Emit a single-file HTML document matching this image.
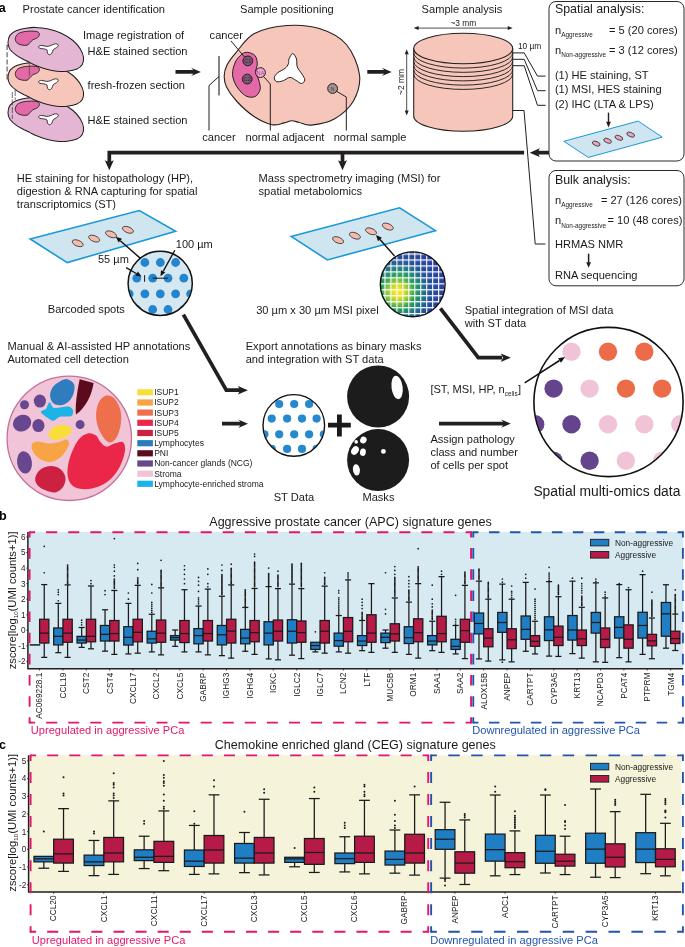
<!DOCTYPE html>
<html><head><meta charset="utf-8"><title>Figure</title>
<style>
html,body{margin:0;padding:0;background:#fff;}
body{width:685px;height:947px;overflow:hidden;font-family:"Liberation Sans",sans-serif;}
svg{display:block;font-family:"Liberation Sans",sans-serif;will-change:transform;}
</style></head><body>
<svg width="685" height="947" viewBox="0 0 685 947">
<rect width="685" height="947" fill="#ffffff"/>
<text x="-1.2" y="12.4" font-size="12.5" text-anchor="start" font-weight="bold" fill="#000" >a</text><text x="22.6" y="12.6" font-size="11.1" text-anchor="start" font-weight="normal" fill="#1a1a1a" >Prostate cancer identification</text><text x="240" y="12.6" font-size="11.1" text-anchor="start" font-weight="normal" fill="#1a1a1a" >Sample positioning</text><text x="462" y="12.6" font-size="11.1" text-anchor="middle" font-weight="normal" fill="#1a1a1a" >Sample analysis</text><path d="M7.1,45 L7.1,79" stroke="#555" stroke-width="1.1" stroke-dasharray="5,2.2" fill="none"/><path d="M6.5,45.3 L8.5,45.3 M6.5,79 L8.5,79" stroke="#555" stroke-width="0.7"/><g transform="translate(0,70)"><path d="M8.0,42.7 C8.0,40.4 8.6,37.4 9.9,35.4 C11.3,33.4 13.6,31.9 16.1,30.8 C18.5,29.6 21.7,29.0 24.8,28.4 C28.0,27.9 31.1,27.3 35.0,27.4 C38.9,27.5 43.8,27.9 48.2,28.9 C52.6,29.8 57.2,31.3 61.3,33.2 C65.5,35.2 69.8,37.9 73.0,40.5 C76.2,43.2 78.5,46.1 80.3,48.9 C82.0,51.7 83.2,54.7 83.5,57.3 C83.8,60.0 83.4,62.7 82.3,64.6 C81.2,66.6 79.5,67.9 76.9,69.0 C74.4,70.1 70.5,70.8 67.2,71.2 C63.8,71.6 60.3,71.5 56.9,71.2 C53.5,70.9 50.0,70.2 46.7,69.3 C43.4,68.5 40.0,67.2 37.2,66.1 C34.4,65.0 32.1,63.7 29.9,62.6 C27.7,61.5 26.4,60.9 24.1,59.7 C21.8,58.4 18.4,56.9 16.1,55.1 C13.7,53.4 11.3,51.4 9.9,49.3 C8.6,47.2 8.0,45.0 8.0,42.7 Z" fill="#e4b6d4" stroke="#231f20" stroke-width="1.05"/><path d="M15.3,38.4 C15.6,36.8 16.4,34.9 18.2,33.7 C20.1,32.5 23.4,31.7 26.3,31.4 C29.2,31.0 33.6,31.0 35.8,31.4 C38.0,31.7 39.1,32.6 39.4,33.7 C39.7,34.7 38.8,36.6 37.7,37.6 C36.6,38.6 34.1,39.0 32.8,39.8 C31.6,40.7 30.9,41.8 29.9,42.7 C29.0,43.6 28.5,44.9 27.0,45.2 C25.5,45.6 22.9,45.3 21.2,44.9 C19.5,44.5 17.8,43.8 16.8,42.7 C15.8,41.6 15.1,39.9 15.3,38.4 Z" fill="#e36aa6" stroke="#231f20" stroke-width="0.9"/><path d="M38.7,46.4 C39.0,45.9 40.3,45.4 41.6,45.4 C42.9,45.4 45.3,46.3 46.7,46.4 C48.2,46.4 49.0,46.1 50.4,45.7 C51.7,45.2 53.5,44.1 54.7,43.9 C56.0,43.7 57.7,44.1 58.1,44.6 C58.5,45.2 58.0,46.3 57.2,47.1 C56.4,48.0 54.2,48.7 53.3,49.7 C52.4,50.8 52.4,52.4 51.8,53.2 C51.2,54.1 50.4,54.7 49.6,54.7 C48.9,54.7 47.9,54.0 47.4,53.2 C47.0,52.5 47.6,50.8 47.0,50.0 C46.4,49.3 45.0,49.2 43.8,48.9 C42.6,48.6 40.6,48.7 39.7,48.3 C38.9,47.9 38.4,46.9 38.7,46.4 Z" fill="#ffffff" stroke="#231f20" stroke-width="0.9"/></g><path d="M12.3,92 L12.3,119 M15.2,90 L15.2,100" stroke="#333" stroke-width="0.7" stroke-dasharray="6,1.5" fill="none"/><g transform="translate(0,35)"><path d="M8.0,42.7 C8.0,40.4 8.6,37.4 9.9,35.4 C11.3,33.4 13.6,31.9 16.1,30.8 C18.5,29.6 21.7,29.0 24.8,28.4 C28.0,27.9 31.1,27.3 35.0,27.4 C38.9,27.5 43.8,27.9 48.2,28.9 C52.6,29.8 57.2,31.3 61.3,33.2 C65.5,35.2 69.8,37.9 73.0,40.5 C76.2,43.2 78.5,46.1 80.3,48.9 C82.0,51.7 83.2,54.7 83.5,57.3 C83.8,60.0 83.4,62.7 82.3,64.6 C81.2,66.6 79.5,67.9 76.9,69.0 C74.4,70.1 70.5,70.8 67.2,71.2 C63.8,71.6 60.3,71.5 56.9,71.2 C53.5,70.9 50.0,70.2 46.7,69.3 C43.4,68.5 40.0,67.2 37.2,66.1 C34.4,65.0 32.1,63.7 29.9,62.6 C27.7,61.5 26.4,60.9 24.1,59.7 C21.8,58.4 18.4,56.9 16.1,55.1 C13.7,53.4 11.3,51.4 9.9,49.3 C8.6,47.2 8.0,45.0 8.0,42.7 Z" fill="#f6c6ba" stroke="#231f20" stroke-width="1.05"/><path d="M15.3,38.4 C15.6,36.8 16.4,34.9 18.2,33.7 C20.1,32.5 23.4,31.7 26.3,31.4 C29.2,31.0 33.6,31.0 35.8,31.4 C38.0,31.7 39.1,32.6 39.4,33.7 C39.7,34.7 38.8,36.6 37.7,37.6 C36.6,38.6 34.1,39.0 32.8,39.8 C31.6,40.7 30.9,41.8 29.9,42.7 C29.0,43.6 28.5,44.9 27.0,45.2 C25.5,45.6 22.9,45.3 21.2,44.9 C19.5,44.5 17.8,43.8 16.8,42.7 C15.8,41.6 15.1,39.9 15.3,38.4 Z" fill="#e36aa6" stroke="#231f20" stroke-width="0.9"/><path d="M38.7,46.4 C39.0,45.9 40.3,45.4 41.6,45.4 C42.9,45.4 45.3,46.3 46.7,46.4 C48.2,46.4 49.0,46.1 50.4,45.7 C51.7,45.2 53.5,44.1 54.7,43.9 C56.0,43.7 57.7,44.1 58.1,44.6 C58.5,45.2 58.0,46.3 57.2,47.1 C56.4,48.0 54.2,48.7 53.3,49.7 C52.4,50.8 52.4,52.4 51.8,53.2 C51.2,54.1 50.4,54.7 49.6,54.7 C48.9,54.7 47.9,54.0 47.4,53.2 C47.0,52.5 47.6,50.8 47.0,50.0 C46.4,49.3 45.0,49.2 43.8,48.9 C42.6,48.6 40.6,48.7 39.7,48.3 C38.9,47.9 38.4,46.9 38.7,46.4 Z" fill="#ffffff" stroke="#231f20" stroke-width="0.9"/></g><path d="M29.3,62 L29.3,76" stroke="#333" stroke-width="0.6" fill="none"/><g transform="translate(0,0)"><path d="M8.0,42.7 C8.0,40.4 8.6,37.4 9.9,35.4 C11.3,33.4 13.6,31.9 16.1,30.8 C18.5,29.6 21.7,29.0 24.8,28.4 C28.0,27.9 31.1,27.3 35.0,27.4 C38.9,27.5 43.8,27.9 48.2,28.9 C52.6,29.8 57.2,31.3 61.3,33.2 C65.5,35.2 69.8,37.9 73.0,40.5 C76.2,43.2 78.5,46.1 80.3,48.9 C82.0,51.7 83.2,54.7 83.5,57.3 C83.8,60.0 83.4,62.7 82.3,64.6 C81.2,66.6 79.5,67.9 76.9,69.0 C74.4,70.1 70.5,70.8 67.2,71.2 C63.8,71.6 60.3,71.5 56.9,71.2 C53.5,70.9 50.0,70.2 46.7,69.3 C43.4,68.5 40.0,67.2 37.2,66.1 C34.4,65.0 32.1,63.7 29.9,62.6 C27.7,61.5 26.4,60.9 24.1,59.7 C21.8,58.4 18.4,56.9 16.1,55.1 C13.7,53.4 11.3,51.4 9.9,49.3 C8.6,47.2 8.0,45.0 8.0,42.7 Z" fill="#e4b6d4" stroke="#231f20" stroke-width="1.05"/><path d="M15.3,38.4 C15.6,36.8 16.4,34.9 18.2,33.7 C20.1,32.5 23.4,31.7 26.3,31.4 C29.2,31.0 33.6,31.0 35.8,31.4 C38.0,31.7 39.1,32.6 39.4,33.7 C39.7,34.7 38.8,36.6 37.7,37.6 C36.6,38.6 34.1,39.0 32.8,39.8 C31.6,40.7 30.9,41.8 29.9,42.7 C29.0,43.6 28.5,44.9 27.0,45.2 C25.5,45.6 22.9,45.3 21.2,44.9 C19.5,44.5 17.8,43.8 16.8,42.7 C15.8,41.6 15.1,39.9 15.3,38.4 Z" fill="#e36aa6" stroke="#231f20" stroke-width="0.9"/><path d="M38.7,46.4 C39.0,45.9 40.3,45.4 41.6,45.4 C42.9,45.4 45.3,46.3 46.7,46.4 C48.2,46.4 49.0,46.1 50.4,45.7 C51.7,45.2 53.5,44.1 54.7,43.9 C56.0,43.7 57.7,44.1 58.1,44.6 C58.5,45.2 58.0,46.3 57.2,47.1 C56.4,48.0 54.2,48.7 53.3,49.7 C52.4,50.8 52.4,52.4 51.8,53.2 C51.2,54.1 50.4,54.7 49.6,54.7 C48.9,54.7 47.9,54.0 47.4,53.2 C47.0,52.5 47.6,50.8 47.0,50.0 C46.4,49.3 45.0,49.2 43.8,48.9 C42.6,48.6 40.6,48.7 39.7,48.3 C38.9,47.9 38.4,46.9 38.7,46.4 Z" fill="#ffffff" stroke="#231f20" stroke-width="0.9"/></g><text x="83" y="39" font-size="11.1" text-anchor="start" font-weight="normal" fill="#1a1a1a" >Image registration of</text><text x="87.6" y="55" font-size="11.1" text-anchor="start" font-weight="normal" fill="#1a1a1a" >H&amp;E stained section</text><text x="87.6" y="89.3" font-size="11.1" text-anchor="start" font-weight="normal" fill="#1a1a1a" >fresh-frozen section</text><text x="87.6" y="124" font-size="11.1" text-anchor="start" font-weight="normal" fill="#1a1a1a" >H&amp;E stained section</text><path d="M175.5,70.0 L193.29999999999998,70.0 L191.1,67.7 L200.9,71.9 L191.1,76.10000000000001 L193.29999999999998,73.80000000000001 L175.5,73.80000000000001 Z" fill="#231f20"/><path d="M235.8,52.8 C240.4,47.6 245.8,38.1 254.4,33.6 C263.0,29.0 276.3,26.3 287.3,25.5 C298.2,24.7 310.2,25.6 320.1,28.8 C330.0,31.9 339.8,36.9 346.4,44.5 C352.9,52.2 358.3,65.3 359.5,74.7 C360.7,84.2 357.6,93.6 353.4,101.0 C349.2,108.4 341.3,115.0 334.3,119.0 C327.3,123.0 317.2,124.5 311.3,125.1 C305.5,125.7 302.6,123.2 299.3,122.5 C296.0,121.7 294.2,120.6 291.6,120.7 C289.1,120.8 287.3,122.3 284.0,122.9 C280.7,123.6 276.9,125.7 271.9,124.7 C267.0,123.6 260.3,120.6 254.4,116.8 C248.6,112.9 241.6,106.5 236.9,101.5 C232.2,96.5 228.5,91.1 226.4,86.8 C224.3,82.5 224.1,79.5 224.2,75.8 C224.3,72.2 225.1,68.7 227.0,64.9 C229.0,61.1 231.2,58.1 235.8,52.8 Z" fill="#f6c6ba" stroke="#231f20" stroke-width="1.1"/><path d="M247.8,52.4 C250.0,52.7 253.5,53.8 255.1,55.7 C256.6,57.6 257.2,61.1 257.3,63.8 C257.4,66.5 255.5,69.2 255.7,71.9 C256.0,74.6 258.1,77.3 258.8,80.2 C259.5,83.2 260.8,86.9 260.1,89.6 C259.4,92.4 257.3,95.6 254.9,96.6 C252.4,97.7 248.6,97.4 245.7,95.8 C242.7,94.1 239.1,90.3 236.9,86.8 C234.7,83.3 232.8,78.9 232.5,74.7 C232.3,70.6 233.8,65.5 235.4,62.0 C236.9,58.6 239.9,55.8 241.9,54.2 C244.0,52.6 245.7,52.2 247.8,52.4 Z" fill="#e36aa6" stroke="#231f20" stroke-width="1.0"/><path d="M289.0,59.0 C289.7,57.3 291.5,53.5 292.7,53.5 C294.0,53.5 295.7,56.7 296.5,59.0 C297.2,61.2 296.4,64.5 297.3,67.1 C298.3,69.6 300.9,72.1 302.1,74.3 C303.4,76.5 304.9,78.5 304.8,80.0 C304.7,81.5 302.9,83.4 301.5,83.5 C300.0,83.6 298.0,81.5 296.0,80.4 C294.1,79.4 292.0,77.3 289.9,77.4 C287.8,77.4 285.5,79.9 283.3,80.7 C281.1,81.4 278.2,82.2 276.7,81.7 C275.3,81.3 274.2,79.3 274.3,77.8 C274.4,76.3 275.6,74.6 277.4,73.0 C279.2,71.4 283.2,69.9 285.1,68.4 C286.9,66.9 287.7,65.4 288.4,63.8 C289.0,62.2 288.3,60.7 289.0,59.0 Z" fill="#fff" stroke="#231f20" stroke-width="1.0"/><circle cx="247.8" cy="60.9" r="4.9" fill="#7f5673" stroke="#231f20" stroke-width="1"/><text x="247.8" y="62.9" font-size="5.6" text-anchor="middle" font-weight="normal" fill="#3a2a35" >C1</text><circle cx="247.2" cy="79.1" r="4.9" fill="#7f5673" stroke="#231f20" stroke-width="1"/><text x="247.2" y="81.1" font-size="5.6" text-anchor="middle" font-weight="normal" fill="#3a2a35" >C2</text><circle cx="260.5" cy="72.6" r="4.9" fill="#eda6cc" stroke="#231f20" stroke-width="1"/><text x="260.5" y="74.6" font-size="5.6" text-anchor="middle" font-weight="normal" fill="#b04590" >NA</text><circle cx="332.6" cy="88.5" r="4.9" fill="#a39292" stroke="#231f20" stroke-width="1"/><text x="332.6" y="90.5" font-size="5.6" text-anchor="middle" font-weight="normal" fill="#4a4040" >N</text><path d="M231,41 L244.5,57" stroke="#231f20" stroke-width="1" fill="none"/><path d="M219,56 L219,95.5" stroke="#66666a" stroke-width="1.6" fill="none"/><path d="M219,76.5 L209,85.5 L209,130.5" stroke="#231f20" stroke-width="1" fill="none"/><path d="M263.5,76.5 L270.3,84 L270.3,130.5" stroke="#231f20" stroke-width="1" fill="none"/><path d="M336,91 L346.3,97 L346.3,130.5" stroke="#231f20" stroke-width="1" fill="none"/><text x="209.6" y="38.5" font-size="11.1" text-anchor="start" font-weight="normal" fill="#1a1a1a" >cancer</text><text x="202.3" y="140.5" font-size="11.1" text-anchor="start" font-weight="normal" fill="#1a1a1a" >cancer</text><text x="245.5" y="140.5" font-size="11.1" text-anchor="start" font-weight="normal" fill="#1a1a1a" >normal adjacent</text><text x="333.7" y="140.5" font-size="11.1" text-anchor="start" font-weight="normal" fill="#1a1a1a" >normal sample</text><path d="M367.3,70.0 L384.09999999999997,70.0 L381.9,67.7 L391.7,71.9 L381.9,76.10000000000001 L384.09999999999997,73.80000000000001 L367.3,73.80000000000001 Z" fill="#231f20"/><path d="M413.7,48.5 L413.7,116 A49.5,15.3 0 0 0 512.7,116 L512.7,48.5 Z" fill="#f6c6ba" stroke="#231f20" stroke-width="1.05"/><path d="M413.7,74.12 A49.5,15.3 0 0 0 512.7,74.12" fill="none" stroke="#231f20" stroke-width="0.95"/><path d="M413.7,69.85 A49.5,15.3 0 0 0 512.7,69.85" fill="none" stroke="#231f20" stroke-width="0.95"/><path d="M413.7,65.58 A49.5,15.3 0 0 0 512.7,65.58" fill="none" stroke="#231f20" stroke-width="0.95"/><path d="M413.7,61.31 A49.5,15.3 0 0 0 512.7,61.31" fill="none" stroke="#231f20" stroke-width="0.95"/><path d="M413.7,57.04 A49.5,15.3 0 0 0 512.7,57.04" fill="none" stroke="#231f20" stroke-width="0.95"/><path d="M413.7,52.769999999999996 A49.5,15.3 0 0 0 512.7,52.769999999999996" fill="none" stroke="#231f20" stroke-width="0.95"/><ellipse cx="463.2" cy="48.5" rx="49.5" ry="15.3" fill="#f6c6ba" stroke="#231f20" stroke-width="1.05"/><path d="M416.6,28.1 L509.70000000000005,28.1" stroke="#222" stroke-width="0.8"/><path d="M413.6,28.1 l5,-2 l0,4 Z M512.7,28.1 l-5,-2 l0,4 Z" fill="#222"/><text x="463.4" y="25.6" font-size="8.4" text-anchor="middle" font-weight="normal" fill="#1a1a1a" >~3 mm</text><path d="M406.7,52.3 L406.7,112.5" stroke="#222" stroke-width="0.8"/><path d="M406.7,49.3 l-2,5 l4,0 Z M406.7,115.5 l-2,-5 l4,0 Z" fill="#222"/><text transform="translate(403.6,82) rotate(-90)" font-size="8.4" text-anchor="middle" fill="#1a1a1a">~2 mm</text><text x="517.9" y="48.6" font-size="8.4" text-anchor="start" font-weight="normal" fill="#1a1a1a" >10 µm</text><path d="M512.7,52.9 L524.2,52.9 L537.5,76.1 L545.6,76.1" stroke="#231f20" stroke-width="1" fill="none"/><path d="M512.7,59.3 L524.2,59.3 L537.5,90.7 L545.6,90.7" stroke="#231f20" stroke-width="1" fill="none"/><path d="M512.7,65.7 L524.2,65.7 L537.5,105.3 L545.6,105.3" stroke="#231f20" stroke-width="1" fill="none"/><path d="M109.3,162 L109.3,152.65 L524.1,152.65" stroke="#231f20" stroke-width="3.7" fill="none" stroke-linejoin="miter"/><path d="M109.3,170.3 l-4.45,-10 l4.45,1.9 l4.45,-1.9 Z" fill="#231f20"/><path d="M342.5,152.65 L342.5,162" stroke="#231f20" stroke-width="3.7"/><path d="M342.5,170.3 l-4.45,-10 l4.45,1.9 l4.45,-1.9 Z" fill="#231f20"/><path d="M512.7,110.5 L524,110.5 L535.2,244 L545.4,244" stroke="#231f20" stroke-width="1" fill="none"/><path d="M549,152.65 L538,152.65" stroke="#231f20" stroke-width="3.7"/><path d="M529.7,152.65 l10,-4.45 l-1.9,4.45 l1.9,4.45 Z" fill="#231f20"/><rect x="549" y="1.5" width="135" height="159.5" rx="7" ry="7" fill="#fff" stroke="#2a2a2a" stroke-width="1"/><rect x="549" y="170.5" width="135" height="115.3" rx="7" ry="7" fill="#fff" stroke="#2a2a2a" stroke-width="1"/><text x="554.9" y="13.3" font-size="12.4" text-anchor="start" font-weight="normal" fill="#1a1a1a" >Spatial analysis:</text><text x="554.9" y="34" font-size="11.1" text-anchor="start" font-weight="normal" fill="#1a1a1a" >n</text><text x="561.2" y="37.2" font-size="6.4" text-anchor="start" font-weight="normal" fill="#1a1a1a" >Aggressive</text><text x="609" y="34" font-size="11.1" text-anchor="start" font-weight="normal" fill="#1a1a1a" >= 5 (20 cores)</text><text x="554.9" y="53.8" font-size="11.1" text-anchor="start" font-weight="normal" fill="#1a1a1a" >n</text><text x="561.2" y="57.0" font-size="6.4" text-anchor="start" font-weight="normal" fill="#1a1a1a" >Non-aggressive</text><text x="609" y="53.8" font-size="11.1" text-anchor="start" font-weight="normal" fill="#1a1a1a" >= 3 (12 cores)</text><text x="554.9" y="78.6" font-size="11.1" text-anchor="start" font-weight="normal" fill="#1a1a1a" >(1) HE staining, ST</text><text x="554.9" y="93.1" font-size="11.1" text-anchor="start" font-weight="normal" fill="#1a1a1a" >(1) MSI, HES staining</text><text x="554.9" y="107.5" font-size="11.1" text-anchor="start" font-weight="normal" fill="#1a1a1a" >(2) IHC (LTA &amp; LPS)</text><path d="M608.5,112.6 L608.5,123" stroke="#231f20" stroke-width="1.4"/><path d="M608.5,127.4 l-2.4,-5.6 l4.8,0 Z" fill="#231f20"/><polygon points="563.8,141.3 638.2,121.1 662.2,137.2 588.3,157.4" fill="#cfe6f1" stroke="#1a98d8" stroke-width="1.0" stroke-linejoin="miter"/><ellipse cx="596.2" cy="143.6" rx="4.1" ry="2.1" transform="rotate(22 596.2 143.6)" fill="#eba3c2" stroke="#2a2a2a" stroke-width="0.75"/><ellipse cx="607.6" cy="140.8" rx="4.1" ry="2.1" transform="rotate(22 607.6 140.8)" fill="#eba3c2" stroke="#2a2a2a" stroke-width="0.75"/><ellipse cx="618.9" cy="137.8" rx="4.1" ry="2.1" transform="rotate(22 618.9 137.8)" fill="#eba3c2" stroke="#2a2a2a" stroke-width="0.75"/><ellipse cx="630.7" cy="134.6" rx="4.1" ry="2.1" transform="rotate(22 630.7 134.6)" fill="#eba3c2" stroke="#2a2a2a" stroke-width="0.75"/><text x="554.9" y="183.7" font-size="12.4" text-anchor="start" font-weight="normal" fill="#1a1a1a" >Bulk analysis:</text><text x="554.9" y="203.8" font-size="11.1" text-anchor="start" font-weight="normal" fill="#1a1a1a" >n</text><text x="561.2" y="207.0" font-size="6.4" text-anchor="start" font-weight="normal" fill="#1a1a1a" >Aggressive</text><text x="600.9" y="203.8" font-size="11.1" text-anchor="start" font-weight="normal" fill="#1a1a1a" >= 27 (126 cores)</text><text x="554.9" y="224.3" font-size="11.1" text-anchor="start" font-weight="normal" fill="#1a1a1a" >n</text><text x="561.2" y="227.5" font-size="6.4" text-anchor="start" font-weight="normal" fill="#1a1a1a" >Non-aggressive</text><text x="607.5" y="224.3" font-size="11.1" text-anchor="start" font-weight="normal" fill="#1a1a1a" >= 10 (48 cores)</text><text x="554.9" y="248.3" font-size="11.1" text-anchor="start" font-weight="normal" fill="#1a1a1a" >HRMAS NMR</text><path d="M588.6,253.7 L588.6,263.5" stroke="#231f20" stroke-width="1.5"/><path d="M588.6,267.8 l-2.4,-5.6 l4.8,0 Z" fill="#231f20"/><text x="554.9" y="278.6" font-size="11.1" text-anchor="start" font-weight="normal" fill="#1a1a1a" >RNA sequencing</text><text x="16.8" y="181.8" font-size="11.1" text-anchor="start" font-weight="normal" fill="#1a1a1a" >HE staining for histopathology (HP),</text><text x="16.8" y="195.0" font-size="11.1" text-anchor="start" font-weight="normal" fill="#1a1a1a" >digestion &amp; RNA capturing for spatial</text><text x="16.8" y="208.1" font-size="11.1" text-anchor="start" font-weight="normal" fill="#1a1a1a" >transcriptomics (ST)</text><text x="258.5" y="181.8" font-size="11.1" text-anchor="start" font-weight="normal" fill="#1a1a1a" >Mass spectrometry imaging (MSI) for</text><text x="258.5" y="195.0" font-size="11.1" text-anchor="start" font-weight="normal" fill="#1a1a1a" >spatial metabolomics</text><polygon points="30.2,239 139.4,210.5 175.6,231.3 67.2,262.6" fill="#cfe6f1" stroke="#1a98d8" stroke-width="1.6" stroke-linejoin="miter"/><ellipse cx="77.7" cy="243.2" rx="5.8" ry="2.9" transform="rotate(22 77.7 243.2)" fill="#f5bcae" stroke="#2a2a2a" stroke-width="0.75"/><ellipse cx="94.2" cy="238.6" rx="5.8" ry="2.9" transform="rotate(22 94.2 238.6)" fill="#f5bcae" stroke="#2a2a2a" stroke-width="0.75"/><ellipse cx="111" cy="234.3" rx="5.8" ry="2.9" transform="rotate(22 111 234.3)" fill="#f5bcae" stroke="#2a2a2a" stroke-width="0.75"/><ellipse cx="127.9" cy="229.8" rx="5.8" ry="2.9" transform="rotate(22 127.9 229.8)" fill="#f5bcae" stroke="#2a2a2a" stroke-width="0.75"/><polygon points="291.1,236.4 399.6,207.8 435.5,230.7 327.4,259.9" fill="#cfe6f1" stroke="#1a98d8" stroke-width="1.6" stroke-linejoin="miter"/><ellipse cx="338.1" cy="240.1" rx="5.8" ry="2.9" transform="rotate(22 338.1 240.1)" fill="#f5bcae" stroke="#2a2a2a" stroke-width="0.75"/><ellipse cx="354.9" cy="235.7" rx="5.8" ry="2.9" transform="rotate(22 354.9 235.7)" fill="#f5bcae" stroke="#2a2a2a" stroke-width="0.75"/><ellipse cx="371" cy="231.3" rx="5.8" ry="2.9" transform="rotate(22 371 231.3)" fill="#f5bcae" stroke="#2a2a2a" stroke-width="0.75"/><ellipse cx="387.8" cy="226.6" rx="5.8" ry="2.9" transform="rotate(22 387.8 226.6)" fill="#f5bcae" stroke="#2a2a2a" stroke-width="0.75"/><path d="M183.4,314.6 L226.3,390.2 L240,390.2" stroke="#231f20" stroke-width="3.7" fill="none" stroke-linejoin="miter"/><path d="M247.9,390.2 l-10,-4.2 l2.2,4.2 l-2.2,4.2 Z" fill="#231f20"/><path d="M440.4,308.4 L478.3,357.7 L502,357.7" stroke="#231f20" stroke-width="3.7" fill="none" stroke-linejoin="miter"/><path d="M510.8,357.7 l-10,-4.2 l2.2,4.2 l-2.2,4.2 Z" fill="#231f20"/><defs><clipPath id="cpS"><circle cx="160.2" cy="283.4" r="31.6"/></clipPath><clipPath id="cpT"><circle cx="293.8" cy="425.4" r="30.4"/></clipPath><clipPath id="cpM"><circle cx="412.7" cy="284.3" r="32"/></clipPath><clipPath id="cpB"><circle cx="608.5" cy="402" r="74.3"/></clipPath><radialGradient id="msiG" gradientUnits="userSpaceOnUse" cx="398" cy="292" r="44" fx="398" fy="292"><stop offset="0" stop-color="#fbe61e"/><stop offset="0.1" stop-color="#f2e21f"/><stop offset="0.25" stop-color="#8cc83c"/><stop offset="0.38" stop-color="#2aa257"/><stop offset="0.55" stop-color="#1f7c86"/><stop offset="0.72" stop-color="#22509a"/><stop offset="1" stop-color="#2a3f9f"/></radialGradient><pattern id="grid" patternUnits="userSpaceOnUse" x="390.4" y="259.4" width="5.96" height="5.96"><path d="M0,0.5 L5.96,0.5 M0.5,0 L0.5,5.96" stroke="#fff" stroke-width="1.25"/></pattern></defs><circle cx="160.2" cy="283.4" r="32.1" fill="#d5e8f2"/><g clip-path="url(#cpS)"><circle cx="144.9" cy="262.5" r="4.4" fill="#2585cc"/><circle cx="160.3" cy="262.5" r="4.4" fill="#2585cc"/><circle cx="175.6" cy="262.5" r="4.4" fill="#2585cc"/><circle cx="136.8" cy="278.2" r="4.4" fill="#2585cc"/><circle cx="152.7" cy="278.2" r="4.4" fill="#2585cc"/><circle cx="168" cy="278.2" r="4.4" fill="#2585cc"/><circle cx="183.8" cy="278.2" r="4.4" fill="#2585cc"/><circle cx="129.2" cy="293.8" r="4.4" fill="#2585cc"/><circle cx="144.9" cy="293.8" r="4.4" fill="#2585cc"/><circle cx="160.3" cy="293.8" r="4.4" fill="#2585cc"/><circle cx="175.6" cy="293.8" r="4.4" fill="#2585cc"/><circle cx="190.6" cy="293.8" r="4.4" fill="#2585cc"/><circle cx="136.8" cy="309.5" r="4.4" fill="#2585cc"/><circle cx="152.7" cy="309.5" r="4.4" fill="#2585cc"/><circle cx="168" cy="309.5" r="4.4" fill="#2585cc"/><circle cx="183.8" cy="309.5" r="4.4" fill="#2585cc"/></g><circle cx="160.2" cy="283.4" r="32.1" fill="none" stroke="#111" stroke-width="1.5"/><path d="M152.7,278.2 L168,278.2" stroke="#111" stroke-width="1"/><path d="M144.6,275.2 L144.6,281.8" stroke="#111" stroke-width="1"/><path d="M140.4,258.4 L120.3,240.7" stroke="#111" stroke-width="1.4"/><path d="M115.8,236.7 L122.0,238.7 L118.6,242.6 Z" fill="#111"/><path d="M174.8,250.2 L163.2,271.4" stroke="#111" stroke-width="1.3"/><path d="M160.5,276.2 L161.0,270.2 L165.3,272.5 Z" fill="#111"/><path d="M126.1,267.6 L136.7,273.7" stroke="#111" stroke-width="1.3"/><path d="M141.5,276.4 L135.5,275.8 L137.9,271.6 Z" fill="#111"/><text x="175.8" y="247.5" font-size="11" text-anchor="start" font-weight="normal" fill="#1a1a1a" >100 µm</text><text x="98" y="262.6" font-size="11" text-anchor="start" font-weight="normal" fill="#1a1a1a" >55 µm</text><text x="47.8" y="313.3" font-size="11.1" text-anchor="start" font-weight="normal" fill="#1a1a1a" >Barcoded spots</text><circle cx="412.7" cy="284.3" r="32.4" fill="url(#msiG)"/><circle cx="412.7" cy="284.3" r="32.4" fill="url(#grid)"/><circle cx="412.7" cy="284.3" r="32.4" fill="none" stroke="#111" stroke-width="1.4"/><path d="M394.5,256.0 L380.0,239.5" stroke="#111" stroke-width="1.4"/><path d="M376.0,235.0 L381.9,237.8 L378.0,241.2 Z" fill="#111"/><text x="256.2" y="313.5" font-size="11.1" text-anchor="start" font-weight="normal" fill="#1a1a1a" >30 µm x 30 µm MSI pixel</text><text x="464.7" y="313.6" font-size="11.1" text-anchor="start" font-weight="normal" fill="#1a1a1a" >Spatial integration of MSI data</text><text x="464.7" y="326.7" font-size="11.1" text-anchor="start" font-weight="normal" fill="#1a1a1a" >with ST data</text><text x="7.4" y="349.6" font-size="11.1" text-anchor="start" font-weight="normal" fill="#1a1a1a" >Manual &amp; AI-assisted HP annotations</text><text x="7.4" y="362.7" font-size="11.1" text-anchor="start" font-weight="normal" fill="#1a1a1a" >Automated cell detection</text><text x="245.7" y="349.6" font-size="11.1" text-anchor="start" font-weight="normal" fill="#1a1a1a" >Export annotations as binary masks</text><text x="245.7" y="362.7" font-size="11.1" text-anchor="start" font-weight="normal" fill="#1a1a1a" >and integration with ST data</text><circle cx="69.3" cy="438.3" r="62.2" fill="#f2c4d7" stroke="#c4709d" stroke-width="1.3"/><path d="M67.4,379.2 C69.7,379.7 73.0,381.9 74.0,384.3 C75.0,386.7 74.5,390.6 73.6,393.5 C72.7,396.4 70.7,399.7 68.5,401.7 C66.3,403.6 62.9,405.0 60.3,405.2 C57.7,405.3 54.4,404.5 52.7,402.7 C51.0,400.9 49.9,397.2 50.1,394.5 C50.2,391.8 51.8,388.6 53.5,386.3 C55.2,384.1 58.0,382.4 60.3,381.2 C62.6,380.0 65.2,378.7 67.4,379.2 Z" fill="#2f7dbe"/><path d="M49.5,402.3 C50.7,402.1 51.6,407.0 53.5,407.8 C55.5,408.6 58.7,407.4 61.3,407.2 C64.0,407.0 67.5,406.2 69.5,406.8 C71.5,407.4 72.8,409.3 73.2,410.9 C73.5,412.4 72.8,415.0 71.5,416.0 C70.2,416.9 67.4,416.4 65.4,416.6 C63.4,416.8 61.2,416.3 59.3,417.0 C57.3,417.7 55.4,420.5 53.5,420.7 C51.7,420.9 50.1,419.5 48.0,418.0 C45.9,416.6 41.2,413.4 40.9,411.9 C40.5,410.4 44.6,410.4 46.0,408.8 C47.4,407.2 48.2,402.5 49.5,402.3 Z" fill="#1cb4e6"/><path d="M79.7,379.2 L93.6,383.1 C92.0,394.5 85.8,407.8 76.0,414.6 C74.8,406.8 77.3,390.4 79.7,379.2 Z" fill="#5c0a1e"/><path d="M106.3,395.5 C108.8,395.0 112.1,396.1 114.4,398.6 C116.8,401.2 119.6,406.4 120.6,410.9 C121.6,415.3 121.3,420.8 120.6,425.2 C119.9,429.6 118.2,434.5 116.5,437.4 C114.8,440.3 112.4,442.4 110.4,442.6 C108.3,442.7 106.3,441.0 104.2,438.5 C102.2,435.9 99.5,431.3 98.1,427.2 C96.7,423.1 95.9,418.2 96.1,413.9 C96.2,409.7 97.4,404.7 99.1,401.7 C100.8,398.6 103.7,396.1 106.3,395.5 Z" fill="#ee6f4b"/><ellipse cx="24.5" cy="404.7" rx="4.5" ry="4.5" transform="rotate(0 24.5 404.7)" fill="#67478f"/><ellipse cx="39.9" cy="401.1" rx="6.1" ry="6.5" transform="rotate(0 39.9 401.1)" fill="#67478f"/><ellipse cx="22.1" cy="423.1" rx="9.4" ry="8.2" transform="rotate(-25 22.1 423.1)" fill="#67478f"/><ellipse cx="38.4" cy="425.6" rx="6.1" ry="6.5" transform="rotate(0 38.4 425.6)" fill="#67478f"/><ellipse cx="24.5" cy="462.4" rx="7.4" ry="11.2" transform="rotate(-8 24.5 462.4)" fill="#67478f"/><ellipse cx="80.1" cy="424.6" rx="4.5" ry="4.5" transform="rotate(0 80.1 424.6)" fill="#67478f"/><path d="M49.0,432.3 C49.6,430.5 51.3,428.5 53.5,427.2 C55.8,426.0 59.5,424.7 62.3,424.8 C65.2,424.8 69.1,426.2 70.5,427.6 C71.9,429.1 71.5,431.7 70.5,433.4 C69.5,435.0 66.8,436.4 64.4,437.4 C62.0,438.5 58.6,439.7 56.2,439.9 C53.8,440.1 51.3,439.7 50.1,438.5 C48.9,437.2 48.5,434.2 49.0,432.3 Z" fill="#f9de3a"/><path d="M31.7,444.6 C32.4,442.7 34.9,441.7 37.8,441.5 C40.7,441.4 45.5,443.5 49.0,443.6 C52.6,443.6 56.4,442.6 59.3,441.9 C62.2,441.3 64.8,439.2 66.4,439.5 C68.1,439.8 69.2,441.5 69.1,443.6 C68.9,445.6 67.2,449.2 65.4,451.7 C63.6,454.3 61.0,457.2 58.2,458.9 C55.5,460.6 52.1,462.0 49.0,462.0 C46.0,462.0 42.4,460.4 39.9,458.9 C37.3,457.4 35.1,455.2 33.7,452.8 C32.4,450.4 31.0,446.5 31.7,444.6 Z" fill="#f6a444"/><path d="M67.4,472.2 C67.4,467.6 68.6,461.3 70.5,455.8 C72.4,450.4 75.8,443.2 78.7,439.5 C81.6,435.7 85.0,434.0 87.9,433.4 C90.8,432.7 94.0,434.0 96.1,435.4 C98.1,436.8 98.4,439.7 100.1,441.5 C101.8,443.4 103.9,446.3 106.3,446.6 C108.7,447.0 111.7,444.4 114.4,443.6 C117.2,442.8 120.9,441.1 122.6,441.9 C124.4,442.8 125.1,445.7 125.1,448.7 C125.1,451.7 124.1,456.0 122.6,459.9 C121.2,463.8 119.2,468.4 116.5,472.2 C113.8,475.9 110.4,479.7 106.3,482.4 C102.2,485.1 96.6,487.5 92.0,488.5 C87.4,489.6 82.3,489.4 78.7,488.5 C75.1,487.7 72.4,486.2 70.5,483.4 C68.6,480.7 67.4,476.8 67.4,472.2 Z" fill="#ea2749"/><path d="M35.2,478.3 C35.5,475.8 37.4,472.2 39.9,470.1 C42.3,468.1 46.7,466.2 50.1,466.1 C53.5,465.9 57.7,467.2 60.3,469.1 C62.8,471.0 64.9,474.4 65.4,477.3 C65.9,480.2 64.9,484.0 63.4,486.5 C61.8,489.0 59.1,491.5 56.2,492.2 C53.3,492.9 49.0,491.7 46.0,490.6 C42.9,489.5 39.6,487.5 37.8,485.5 C36.0,483.4 34.8,480.9 35.2,478.3 Z" fill="#cd2142"/><rect x="137.3" y="389.2" width="15.6" height="6.2" fill="#f9de3a"/><text x="154.2" y="395.2" font-size="8.5" text-anchor="start" font-weight="normal" fill="#1a1a1a" >ISUP1</text><rect x="137.3" y="399.4" width="15.6" height="6.2" fill="#f6a444"/><text x="154.2" y="405.4" font-size="8.5" text-anchor="start" font-weight="normal" fill="#1a1a1a" >ISUP2</text><rect x="137.3" y="409.5" width="15.6" height="6.2" fill="#ee6f4b"/><text x="154.2" y="415.5" font-size="8.5" text-anchor="start" font-weight="normal" fill="#1a1a1a" >ISUP3</text><rect x="137.3" y="419.7" width="15.6" height="6.2" fill="#ea2749"/><text x="154.2" y="425.7" font-size="8.5" text-anchor="start" font-weight="normal" fill="#1a1a1a" >ISUP4</text><rect x="137.3" y="429.9" width="15.6" height="6.2" fill="#cd2142"/><text x="154.2" y="435.9" font-size="8.5" text-anchor="start" font-weight="normal" fill="#1a1a1a" >ISUP5</text><rect x="137.3" y="440.1" width="15.6" height="6.2" fill="#2b7bbf"/><text x="154.2" y="446.1" font-size="8.5" text-anchor="start" font-weight="normal" fill="#1a1a1a" >Lymphocytes</text><rect x="137.3" y="450.2" width="15.6" height="6.2" fill="#5c0a1e"/><text x="154.2" y="456.2" font-size="8.5" text-anchor="start" font-weight="normal" fill="#1a1a1a" >PNI</text><rect x="137.3" y="460.4" width="15.6" height="6.2" fill="#67478f"/><text x="154.2" y="466.4" font-size="8.5" text-anchor="start" font-weight="normal" fill="#1a1a1a" >Non-cancer glands (NCG)</text><rect x="137.3" y="470.6" width="15.6" height="6.2" fill="#f1c3d7"/><text x="154.2" y="476.6" font-size="8.5" text-anchor="start" font-weight="normal" fill="#1a1a1a" >Stroma</text><rect x="137.3" y="480.7" width="15.6" height="6.2" fill="#1cb4e8"/><text x="154.2" y="486.7" font-size="8.5" text-anchor="start" font-weight="normal" fill="#1a1a1a" >Lymphocyte-enriched stroma</text><path d="M222,421.8 L240.39999999999998,421.8 L238.2,419.5 L248,423.7 L238.2,427.9 L240.39999999999998,425.59999999999997 L222,425.59999999999997 Z" fill="#231f20"/><circle cx="293.8" cy="425.4" r="30.8" fill="#fff"/><g clip-path="url(#cpT)"><circle cx="279.2" cy="404" r="4.1" fill="#2688cf"/><circle cx="294.2" cy="404" r="4.1" fill="#2688cf"/><circle cx="309.1" cy="404" r="4.1" fill="#2688cf"/><circle cx="271.7" cy="418.6" r="4.1" fill="#2688cf"/><circle cx="287.1" cy="418.6" r="4.1" fill="#2688cf"/><circle cx="302" cy="418.6" r="4.1" fill="#2688cf"/><circle cx="316.6" cy="418.6" r="4.1" fill="#2688cf"/><circle cx="264.4" cy="434.3" r="4.1" fill="#2688cf"/><circle cx="279.2" cy="434.3" r="4.1" fill="#2688cf"/><circle cx="294.2" cy="434.3" r="4.1" fill="#2688cf"/><circle cx="309.1" cy="434.3" r="4.1" fill="#2688cf"/><circle cx="323.9" cy="434.3" r="4.1" fill="#2688cf"/><circle cx="271.7" cy="448.9" r="4.1" fill="#2688cf"/><circle cx="287.1" cy="448.9" r="4.1" fill="#2688cf"/><circle cx="302" cy="448.9" r="4.1" fill="#2688cf"/><circle cx="316.6" cy="448.9" r="4.1" fill="#2688cf"/></g><circle cx="293.8" cy="425.4" r="30.8" fill="none" stroke="#111" stroke-width="1.4"/><path d="M328,425.2 L350.8,425.2 M339.4,414.4 L339.4,436.6" stroke="#1a1a1a" stroke-width="4.8"/><circle cx="378.1" cy="396.5" r="31" fill="#1c1c1c"/><ellipse cx="397.1" cy="387.4" rx="5.6" ry="11.8" transform="rotate(-7 397.1 387.4)" fill="#fff"/><circle cx="378.1" cy="460.1" r="31" fill="#1c1c1c"/><ellipse cx="363.4" cy="440" rx="3.2" ry="3.5" transform="rotate(20 363.4 440)" fill="#fff"/><ellipse cx="356.2" cy="441.9" rx="1.8" ry="1.8" transform="rotate(0 356.2 441.9)" fill="#fff"/><ellipse cx="355" cy="450.5" rx="3.4" ry="4.6" transform="rotate(35 355 450.5)" fill="#fff"/><ellipse cx="362.9" cy="452.2" rx="2.9" ry="3.7" transform="rotate(10 362.9 452.2)" fill="#fff"/><ellipse cx="383.4" cy="451.4" rx="2.4" ry="2.4" transform="rotate(0 383.4 451.4)" fill="#fff"/><ellipse cx="356.4" cy="469.8" rx="3.5" ry="5.7" transform="rotate(-8 356.4 469.8)" fill="#fff"/><text x="273.7" y="501.3" font-size="11.1" text-anchor="start" font-weight="normal" fill="#1a1a1a" >ST Data</text><text x="362.4" y="501.3" font-size="11.1" text-anchor="start" font-weight="normal" fill="#1a1a1a" >Masks</text><text x="430.4" y="392.8" font-size="11.1" text-anchor="start" font-weight="normal" fill="#1a1a1a" >[ST, MSI, HP, n</text><text x="504.8" y="396.2" font-size="6.4" text-anchor="start" font-weight="normal" fill="#1a1a1a" >cells</text><text x="518" y="392.8" font-size="11.1" text-anchor="start" font-weight="normal" fill="#1a1a1a" >]</text><path d="M439,421.70000000000005 L503.2,421.70000000000005 L501.0,419.40000000000003 L510.8,423.6 L501.0,427.8 L503.2,425.5 L439,425.5 Z" fill="#231f20"/><text x="430.4" y="443" font-size="11.1" text-anchor="start" font-weight="normal" fill="#1a1a1a" >Assign pathology</text><text x="430.4" y="456" font-size="11.1" text-anchor="start" font-weight="normal" fill="#1a1a1a" >class and number</text><text x="430.4" y="469.2" font-size="11.1" text-anchor="start" font-weight="normal" fill="#1a1a1a" >of cells per spot</text><circle cx="608.5" cy="402" r="74.6" fill="#fff"/><g clip-path="url(#cpB)"><circle cx="571.5" cy="351.8" r="9.2" fill="#f1c3d7"/><circle cx="608" cy="351.8" r="9.2" fill="#ec6b48"/><circle cx="644.3" cy="351.8" r="9.2" fill="#ec6b48"/><circle cx="553.6" cy="388.6" r="9.2" fill="#65448e"/><circle cx="589.6" cy="388.6" r="9.2" fill="#f1c3d7"/><circle cx="625.9" cy="388.6" r="9.2" fill="#ec6b48"/><circle cx="662.1" cy="388.6" r="9.2" fill="#ec6b48"/><circle cx="535.2" cy="424.3" r="9.2" fill="#65448e"/><circle cx="571.5" cy="424.3" r="9.2" fill="#65448e"/><circle cx="608" cy="424.3" r="9.2" fill="#f1c3d7"/><circle cx="644.3" cy="424.3" r="9.2" fill="#f1c3d7"/><circle cx="680.3" cy="424.3" r="9.2" fill="#f1c3d7"/><circle cx="553.6" cy="460.8" r="9.2" fill="#65448e"/><circle cx="589.6" cy="460.8" r="9.2" fill="#65448e"/><circle cx="625.9" cy="460.8" r="9.2" fill="#f1c3d7"/><circle cx="662.1" cy="460.8" r="9.2" fill="#f1c3d7"/></g><circle cx="608.5" cy="402" r="74.6" fill="none" stroke="#111" stroke-width="1.6"/><path d="M524.7,382.8 L559.5,360.5" stroke="#111" stroke-width="1.5"/><path d="M565.0,357.0 L561.0,362.8 L558.1,358.2 Z" fill="#111"/><text x="533.4" y="496.3" font-size="13.85" text-anchor="start" font-weight="normal" fill="#1a1a1a" >Spatial multi-omics data</text><text x="-1" y="520.0" font-size="12.5" text-anchor="start" font-weight="bold" fill="#000" >b</text><text x="350.5" y="525.7" font-size="12.55" text-anchor="middle" font-weight="normal" fill="#1a1a1a" >Aggressive prostate cancer (APC) signature genes</text><rect x="27.9" y="532" width="655.2" height="136.70000000000005" fill="#d7eaf2"/><path d="M34.94,644.92 L34.94,644.92 M34.94,644.92 L34.94,644.92" stroke="#1a1a1a" stroke-width="1.25" fill="none"/><path d="M29.69,644.92 L40.19,644.92" stroke="#1a1a1a" stroke-width="1.5"/><path d="M44.24,584.58 L44.24,619.26 M44.24,643.05 L44.24,657.36" stroke="#1a1a1a" stroke-width="1.25" fill="none"/><path d="M41.19,584.58 L47.29,584.58" stroke="#1a1a1a" stroke-width="1.25"/><path d="M41.19,657.36 L47.29,657.36" stroke="#1a1a1a" stroke-width="1.25"/><rect x="39.59" y="619.26" width="9.30" height="23.79" fill="#b51b46" stroke="#1a1a1a" stroke-width="1.25"/><path d="M39.59,633.10 L48.89,633.10" stroke="#1a1a1a" stroke-width="1.25"/><circle cx="44.24" cy="572.76" r="0.85" fill="#1a1a1a"/><circle cx="44.24" cy="546.33" r="0.85" fill="#1a1a1a"/><path d="M58.31,603.40 L58.31,627.97 M58.31,644.92 L58.31,652.69" stroke="#1a1a1a" stroke-width="1.25" fill="none"/><path d="M55.26,603.40 L61.36,603.40" stroke="#1a1a1a" stroke-width="1.25"/><path d="M55.26,652.69 L61.36,652.69" stroke="#1a1a1a" stroke-width="1.25"/><rect x="53.66" y="627.97" width="9.30" height="16.95" fill="#207fc4" stroke="#1a1a1a" stroke-width="1.25"/><path d="M53.66,636.36 L62.96,636.36" stroke="#1a1a1a" stroke-width="1.25"/><circle cx="58.31" cy="600.75" r="0.85" fill="#1a1a1a"/><circle cx="58.31" cy="594.53" r="0.85" fill="#1a1a1a"/><circle cx="58.31" cy="592.20" r="0.85" fill="#1a1a1a"/><circle cx="58.31" cy="589.87" r="0.85" fill="#1a1a1a"/><path d="M67.61,584.89 L67.61,619.26 M67.61,642.27 L67.61,657.36" stroke="#1a1a1a" stroke-width="1.25" fill="none"/><path d="M64.56,584.89 L70.66,584.89" stroke="#1a1a1a" stroke-width="1.25"/><path d="M64.56,657.36 L70.66,657.36" stroke="#1a1a1a" stroke-width="1.25"/><rect x="62.96" y="619.26" width="9.30" height="23.01" fill="#b51b46" stroke="#1a1a1a" stroke-width="1.25"/><path d="M62.96,633.10 L72.26,633.10" stroke="#1a1a1a" stroke-width="1.25"/><circle cx="67.61" cy="583.65" r="0.85" fill="#1a1a1a"/><circle cx="67.61" cy="582.41" r="0.85" fill="#1a1a1a"/><circle cx="67.61" cy="581.32" r="0.85" fill="#1a1a1a"/><circle cx="67.61" cy="580.07" r="0.85" fill="#1a1a1a"/><circle cx="67.61" cy="578.98" r="0.85" fill="#1a1a1a"/><circle cx="67.61" cy="577.74" r="0.85" fill="#1a1a1a"/><circle cx="67.61" cy="576.65" r="0.85" fill="#1a1a1a"/><circle cx="67.61" cy="575.41" r="0.85" fill="#1a1a1a"/><circle cx="67.61" cy="574.32" r="0.85" fill="#1a1a1a"/><circle cx="67.61" cy="573.08" r="0.85" fill="#1a1a1a"/><circle cx="67.61" cy="571.99" r="0.85" fill="#1a1a1a"/><circle cx="67.61" cy="570.74" r="0.85" fill="#1a1a1a"/><circle cx="67.61" cy="569.65" r="0.85" fill="#1a1a1a"/><circle cx="67.61" cy="568.41" r="0.85" fill="#1a1a1a"/><circle cx="67.61" cy="567.32" r="0.85" fill="#1a1a1a"/><circle cx="67.61" cy="566.08" r="0.85" fill="#1a1a1a"/><circle cx="67.61" cy="564.99" r="0.85" fill="#1a1a1a"/><path d="M81.68,627.50 L81.68,636.36 M81.68,643.05 L81.68,647.40" stroke="#1a1a1a" stroke-width="1.25" fill="none"/><path d="M78.63,627.50 L84.73,627.50" stroke="#1a1a1a" stroke-width="1.25"/><path d="M78.63,647.40 L84.73,647.40" stroke="#1a1a1a" stroke-width="1.25"/><rect x="77.03" y="636.36" width="9.30" height="6.69" fill="#207fc4" stroke="#1a1a1a" stroke-width="1.25"/><path d="M77.03,640.10 L86.33,640.10" stroke="#1a1a1a" stroke-width="1.25"/><circle cx="81.68" cy="624.86" r="0.85" fill="#1a1a1a"/><circle cx="81.68" cy="622.52" r="0.85" fill="#1a1a1a"/><circle cx="81.68" cy="620.19" r="0.85" fill="#1a1a1a"/><path d="M90.98,585.98 L90.98,619.26 M90.98,641.81 L90.98,648.80" stroke="#1a1a1a" stroke-width="1.25" fill="none"/><path d="M87.93,585.98 L94.03,585.98" stroke="#1a1a1a" stroke-width="1.25"/><path d="M87.93,648.80 L94.03,648.80" stroke="#1a1a1a" stroke-width="1.25"/><rect x="86.33" y="619.26" width="9.30" height="22.55" fill="#b51b46" stroke="#1a1a1a" stroke-width="1.25"/><path d="M86.33,636.36 L95.63,636.36" stroke="#1a1a1a" stroke-width="1.25"/><circle cx="90.98" cy="583.65" r="0.85" fill="#1a1a1a"/><circle cx="90.98" cy="580.54" r="0.85" fill="#1a1a1a"/><path d="M105.05,609.77 L105.05,625.48 M105.05,641.03 L105.05,651.14" stroke="#1a1a1a" stroke-width="1.25" fill="none"/><path d="M102.00,609.77 L108.10,609.77" stroke="#1a1a1a" stroke-width="1.25"/><path d="M102.00,651.14 L108.10,651.14" stroke="#1a1a1a" stroke-width="1.25"/><rect x="100.40" y="625.48" width="9.30" height="15.55" fill="#207fc4" stroke="#1a1a1a" stroke-width="1.25"/><path d="M100.40,634.34 L109.70,634.34" stroke="#1a1a1a" stroke-width="1.25"/><circle cx="105.05" cy="594.53" r="0.85" fill="#1a1a1a"/><circle cx="105.05" cy="590.65" r="0.85" fill="#1a1a1a"/><path d="M114.35,590.49 L114.35,620.50 M114.35,641.03 L114.35,654.40" stroke="#1a1a1a" stroke-width="1.25" fill="none"/><path d="M111.30,590.49 L117.40,590.49" stroke="#1a1a1a" stroke-width="1.25"/><path d="M111.30,654.40 L117.40,654.40" stroke="#1a1a1a" stroke-width="1.25"/><rect x="109.70" y="620.50" width="9.30" height="20.53" fill="#b51b46" stroke="#1a1a1a" stroke-width="1.25"/><path d="M109.70,633.57 L119.00,633.57" stroke="#1a1a1a" stroke-width="1.25"/><circle cx="114.35" cy="588.31" r="0.85" fill="#1a1a1a"/><circle cx="114.35" cy="587.07" r="0.85" fill="#1a1a1a"/><circle cx="114.35" cy="585.98" r="0.85" fill="#1a1a1a"/><circle cx="114.35" cy="584.74" r="0.85" fill="#1a1a1a"/><circle cx="114.35" cy="583.65" r="0.85" fill="#1a1a1a"/><circle cx="114.35" cy="582.41" r="0.85" fill="#1a1a1a"/><circle cx="114.35" cy="581.32" r="0.85" fill="#1a1a1a"/><circle cx="114.35" cy="580.07" r="0.85" fill="#1a1a1a"/><circle cx="114.35" cy="578.98" r="0.85" fill="#1a1a1a"/><circle cx="114.35" cy="575.88" r="0.85" fill="#1a1a1a"/><circle cx="114.35" cy="571.21" r="0.85" fill="#1a1a1a"/><circle cx="114.35" cy="567.32" r="0.85" fill="#1a1a1a"/><circle cx="114.35" cy="564.99" r="0.85" fill="#1a1a1a"/><circle cx="114.35" cy="538.55" r="0.85" fill="#1a1a1a"/><path d="M128.42,603.40 L128.42,626.72 M128.42,645.07 L128.42,653.94" stroke="#1a1a1a" stroke-width="1.25" fill="none"/><path d="M125.37,603.40 L131.47,603.40" stroke="#1a1a1a" stroke-width="1.25"/><path d="M125.37,653.94 L131.47,653.94" stroke="#1a1a1a" stroke-width="1.25"/><rect x="123.77" y="626.72" width="9.30" height="18.35" fill="#207fc4" stroke="#1a1a1a" stroke-width="1.25"/><path d="M123.77,637.30 L133.07,637.30" stroke="#1a1a1a" stroke-width="1.25"/><circle cx="128.42" cy="599.20" r="0.85" fill="#1a1a1a"/><circle cx="128.42" cy="592.98" r="0.85" fill="#1a1a1a"/><path d="M137.72,585.36 L137.72,619.26 M137.72,641.81 L137.72,653.16" stroke="#1a1a1a" stroke-width="1.25" fill="none"/><path d="M134.67,585.36 L140.77,585.36" stroke="#1a1a1a" stroke-width="1.25"/><path d="M134.67,653.16 L140.77,653.16" stroke="#1a1a1a" stroke-width="1.25"/><rect x="133.07" y="619.26" width="9.30" height="22.55" fill="#b51b46" stroke="#1a1a1a" stroke-width="1.25"/><path d="M133.07,632.32 L142.37,632.32" stroke="#1a1a1a" stroke-width="1.25"/><circle cx="137.72" cy="583.65" r="0.85" fill="#1a1a1a"/><circle cx="137.72" cy="582.41" r="0.85" fill="#1a1a1a"/><circle cx="137.72" cy="581.32" r="0.85" fill="#1a1a1a"/><circle cx="137.72" cy="580.07" r="0.85" fill="#1a1a1a"/><circle cx="137.72" cy="578.98" r="0.85" fill="#1a1a1a"/><circle cx="137.72" cy="577.74" r="0.85" fill="#1a1a1a"/><circle cx="137.72" cy="569.65" r="0.85" fill="#1a1a1a"/><circle cx="137.72" cy="563.43" r="0.85" fill="#1a1a1a"/><path d="M151.79,614.28 L151.79,631.23 M151.79,643.05 L151.79,651.91" stroke="#1a1a1a" stroke-width="1.25" fill="none"/><path d="M148.74,614.28 L154.84,614.28" stroke="#1a1a1a" stroke-width="1.25"/><path d="M148.74,651.91 L154.84,651.91" stroke="#1a1a1a" stroke-width="1.25"/><rect x="147.14" y="631.23" width="9.30" height="11.82" fill="#207fc4" stroke="#1a1a1a" stroke-width="1.25"/><path d="M147.14,638.85 L156.44,638.85" stroke="#1a1a1a" stroke-width="1.25"/><circle cx="151.79" cy="612.42" r="0.85" fill="#1a1a1a"/><circle cx="151.79" cy="610.40" r="0.85" fill="#1a1a1a"/><circle cx="151.79" cy="608.37" r="0.85" fill="#1a1a1a"/><circle cx="151.79" cy="606.35" r="0.85" fill="#1a1a1a"/><circle cx="151.79" cy="604.33" r="0.85" fill="#1a1a1a"/><circle cx="151.79" cy="602.31" r="0.85" fill="#1a1a1a"/><circle cx="151.79" cy="592.98" r="0.85" fill="#1a1a1a"/><circle cx="151.79" cy="584.43" r="0.85" fill="#1a1a1a"/><path d="M161.09,587.85 L161.09,620.04 M161.09,642.27 L161.09,654.87" stroke="#1a1a1a" stroke-width="1.25" fill="none"/><path d="M158.04,587.85 L164.14,587.85" stroke="#1a1a1a" stroke-width="1.25"/><path d="M158.04,654.87 L164.14,654.87" stroke="#1a1a1a" stroke-width="1.25"/><rect x="156.44" y="620.04" width="9.30" height="22.24" fill="#b51b46" stroke="#1a1a1a" stroke-width="1.25"/><path d="M156.44,633.10 L165.74,633.10" stroke="#1a1a1a" stroke-width="1.25"/><circle cx="161.09" cy="586.76" r="0.85" fill="#1a1a1a"/><circle cx="161.09" cy="585.52" r="0.85" fill="#1a1a1a"/><circle cx="161.09" cy="584.43" r="0.85" fill="#1a1a1a"/><circle cx="161.09" cy="583.18" r="0.85" fill="#1a1a1a"/><circle cx="161.09" cy="582.09" r="0.85" fill="#1a1a1a"/><circle cx="161.09" cy="580.85" r="0.85" fill="#1a1a1a"/><circle cx="161.09" cy="579.76" r="0.85" fill="#1a1a1a"/><circle cx="161.09" cy="578.52" r="0.85" fill="#1a1a1a"/><circle cx="161.09" cy="577.43" r="0.85" fill="#1a1a1a"/><circle cx="161.09" cy="576.19" r="0.85" fill="#1a1a1a"/><circle cx="161.09" cy="575.10" r="0.85" fill="#1a1a1a"/><circle cx="161.09" cy="573.85" r="0.85" fill="#1a1a1a"/><circle cx="161.09" cy="572.76" r="0.85" fill="#1a1a1a"/><circle cx="161.09" cy="571.52" r="0.85" fill="#1a1a1a"/><circle cx="161.09" cy="570.43" r="0.85" fill="#1a1a1a"/><circle cx="161.09" cy="560.32" r="0.85" fill="#1a1a1a"/><path d="M175.16,629.99 L175.16,635.59 M175.16,640.10 L175.16,646.32" stroke="#1a1a1a" stroke-width="1.25" fill="none"/><path d="M172.11,629.99 L178.21,629.99" stroke="#1a1a1a" stroke-width="1.25"/><path d="M172.11,646.32 L178.21,646.32" stroke="#1a1a1a" stroke-width="1.25"/><rect x="170.51" y="635.59" width="9.30" height="4.51" fill="#207fc4" stroke="#1a1a1a" stroke-width="1.25"/><path d="M170.51,637.61 L179.81,637.61" stroke="#1a1a1a" stroke-width="1.25"/><path d="M184.46,589.71 L184.46,620.50 M184.46,642.58 L184.46,651.91" stroke="#1a1a1a" stroke-width="1.25" fill="none"/><path d="M181.41,589.71 L187.51,589.71" stroke="#1a1a1a" stroke-width="1.25"/><path d="M181.41,651.91 L187.51,651.91" stroke="#1a1a1a" stroke-width="1.25"/><rect x="179.81" y="620.50" width="9.30" height="22.08" fill="#b51b46" stroke="#1a1a1a" stroke-width="1.25"/><path d="M179.81,633.57 L189.11,633.57" stroke="#1a1a1a" stroke-width="1.25"/><circle cx="184.46" cy="583.65" r="0.85" fill="#1a1a1a"/><circle cx="184.46" cy="578.98" r="0.85" fill="#1a1a1a"/><circle cx="184.46" cy="574.32" r="0.85" fill="#1a1a1a"/><circle cx="184.46" cy="569.65" r="0.85" fill="#1a1a1a"/><circle cx="184.46" cy="565.77" r="0.85" fill="#1a1a1a"/><path d="M198.54,606.04 L198.54,628.59 M198.54,643.83 L198.54,651.91" stroke="#1a1a1a" stroke-width="1.25" fill="none"/><path d="M195.49,606.04 L201.59,606.04" stroke="#1a1a1a" stroke-width="1.25"/><path d="M195.49,651.91 L201.59,651.91" stroke="#1a1a1a" stroke-width="1.25"/><rect x="193.89" y="628.59" width="9.30" height="15.24" fill="#207fc4" stroke="#1a1a1a" stroke-width="1.25"/><path d="M193.89,635.59 L203.19,635.59" stroke="#1a1a1a" stroke-width="1.25"/><circle cx="198.54" cy="603.87" r="0.85" fill="#1a1a1a"/><circle cx="198.54" cy="601.84" r="0.85" fill="#1a1a1a"/><circle cx="198.54" cy="599.82" r="0.85" fill="#1a1a1a"/><circle cx="198.54" cy="597.80" r="0.85" fill="#1a1a1a"/><circle cx="198.54" cy="591.42" r="0.85" fill="#1a1a1a"/><circle cx="198.54" cy="585.20" r="0.85" fill="#1a1a1a"/><circle cx="198.54" cy="581.32" r="0.85" fill="#1a1a1a"/><circle cx="198.54" cy="577.43" r="0.85" fill="#1a1a1a"/><path d="M207.84,589.09 L207.84,620.50 M207.84,641.03 L207.84,654.87" stroke="#1a1a1a" stroke-width="1.25" fill="none"/><path d="M204.79,589.09 L210.89,589.09" stroke="#1a1a1a" stroke-width="1.25"/><path d="M204.79,654.87 L210.89,654.87" stroke="#1a1a1a" stroke-width="1.25"/><rect x="203.19" y="620.50" width="9.30" height="20.53" fill="#b51b46" stroke="#1a1a1a" stroke-width="1.25"/><path d="M203.19,633.57 L212.49,633.57" stroke="#1a1a1a" stroke-width="1.25"/><circle cx="207.84" cy="586.76" r="0.85" fill="#1a1a1a"/><circle cx="207.84" cy="583.65" r="0.85" fill="#1a1a1a"/><circle cx="207.84" cy="574.32" r="0.85" fill="#1a1a1a"/><circle cx="207.84" cy="568.88" r="0.85" fill="#1a1a1a"/><path d="M221.91,596.25 L221.91,625.48 M221.91,644.92 L221.91,655.65" stroke="#1a1a1a" stroke-width="1.25" fill="none"/><path d="M218.86,596.25 L224.96,596.25" stroke="#1a1a1a" stroke-width="1.25"/><path d="M218.86,655.65 L224.96,655.65" stroke="#1a1a1a" stroke-width="1.25"/><rect x="217.26" y="625.48" width="9.30" height="19.44" fill="#207fc4" stroke="#1a1a1a" stroke-width="1.25"/><path d="M217.26,634.81 L226.56,634.81" stroke="#1a1a1a" stroke-width="1.25"/><circle cx="221.91" cy="594.53" r="0.85" fill="#1a1a1a"/><circle cx="221.91" cy="593.29" r="0.85" fill="#1a1a1a"/><circle cx="221.91" cy="592.20" r="0.85" fill="#1a1a1a"/><circle cx="221.91" cy="590.96" r="0.85" fill="#1a1a1a"/><circle cx="221.91" cy="589.87" r="0.85" fill="#1a1a1a"/><circle cx="221.91" cy="588.63" r="0.85" fill="#1a1a1a"/><circle cx="221.91" cy="587.54" r="0.85" fill="#1a1a1a"/><circle cx="221.91" cy="586.29" r="0.85" fill="#1a1a1a"/><circle cx="221.91" cy="585.20" r="0.85" fill="#1a1a1a"/><circle cx="221.91" cy="583.96" r="0.85" fill="#1a1a1a"/><circle cx="221.91" cy="582.87" r="0.85" fill="#1a1a1a"/><circle cx="221.91" cy="581.63" r="0.85" fill="#1a1a1a"/><circle cx="221.91" cy="580.54" r="0.85" fill="#1a1a1a"/><circle cx="221.91" cy="579.30" r="0.85" fill="#1a1a1a"/><circle cx="221.91" cy="578.21" r="0.85" fill="#1a1a1a"/><circle cx="221.91" cy="576.96" r="0.85" fill="#1a1a1a"/><circle cx="221.91" cy="575.88" r="0.85" fill="#1a1a1a"/><circle cx="221.91" cy="574.63" r="0.85" fill="#1a1a1a"/><circle cx="221.91" cy="570.43" r="0.85" fill="#1a1a1a"/><circle cx="221.91" cy="564.99" r="0.85" fill="#1a1a1a"/><path d="M231.21,584.89 L231.21,619.26 M231.21,643.05 L231.21,658.13" stroke="#1a1a1a" stroke-width="1.25" fill="none"/><path d="M228.16,584.89 L234.26,584.89" stroke="#1a1a1a" stroke-width="1.25"/><path d="M228.16,658.13 L234.26,658.13" stroke="#1a1a1a" stroke-width="1.25"/><rect x="226.56" y="619.26" width="9.30" height="23.79" fill="#b51b46" stroke="#1a1a1a" stroke-width="1.25"/><path d="M226.56,631.08 L235.86,631.08" stroke="#1a1a1a" stroke-width="1.25"/><circle cx="231.21" cy="583.65" r="0.85" fill="#1a1a1a"/><circle cx="231.21" cy="582.41" r="0.85" fill="#1a1a1a"/><circle cx="231.21" cy="581.32" r="0.85" fill="#1a1a1a"/><circle cx="231.21" cy="580.07" r="0.85" fill="#1a1a1a"/><circle cx="231.21" cy="578.98" r="0.85" fill="#1a1a1a"/><circle cx="231.21" cy="577.74" r="0.85" fill="#1a1a1a"/><circle cx="231.21" cy="576.65" r="0.85" fill="#1a1a1a"/><circle cx="231.21" cy="575.41" r="0.85" fill="#1a1a1a"/><circle cx="231.21" cy="574.32" r="0.85" fill="#1a1a1a"/><circle cx="231.21" cy="573.08" r="0.85" fill="#1a1a1a"/><circle cx="231.21" cy="571.99" r="0.85" fill="#1a1a1a"/><circle cx="231.21" cy="570.74" r="0.85" fill="#1a1a1a"/><circle cx="231.21" cy="569.65" r="0.85" fill="#1a1a1a"/><circle cx="231.21" cy="568.41" r="0.85" fill="#1a1a1a"/><circle cx="231.21" cy="564.21" r="0.85" fill="#1a1a1a"/><path d="M245.28,607.44 L245.28,629.37 M245.28,643.83 L245.28,651.29" stroke="#1a1a1a" stroke-width="1.25" fill="none"/><path d="M242.23,607.44 L248.33,607.44" stroke="#1a1a1a" stroke-width="1.25"/><path d="M242.23,651.29 L248.33,651.29" stroke="#1a1a1a" stroke-width="1.25"/><rect x="240.63" y="629.37" width="9.30" height="14.46" fill="#207fc4" stroke="#1a1a1a" stroke-width="1.25"/><path d="M240.63,638.07 L249.93,638.07" stroke="#1a1a1a" stroke-width="1.25"/><circle cx="245.28" cy="606.20" r="0.85" fill="#1a1a1a"/><circle cx="245.28" cy="605.11" r="0.85" fill="#1a1a1a"/><circle cx="245.28" cy="603.87" r="0.85" fill="#1a1a1a"/><circle cx="245.28" cy="602.78" r="0.85" fill="#1a1a1a"/><circle cx="245.28" cy="601.53" r="0.85" fill="#1a1a1a"/><circle cx="245.28" cy="600.44" r="0.85" fill="#1a1a1a"/><circle cx="245.28" cy="599.20" r="0.85" fill="#1a1a1a"/><circle cx="245.28" cy="598.11" r="0.85" fill="#1a1a1a"/><circle cx="245.28" cy="596.87" r="0.85" fill="#1a1a1a"/><circle cx="245.28" cy="595.62" r="0.85" fill="#1a1a1a"/><circle cx="245.28" cy="594.53" r="0.85" fill="#1a1a1a"/><circle cx="245.28" cy="593.29" r="0.85" fill="#1a1a1a"/><circle cx="245.28" cy="592.20" r="0.85" fill="#1a1a1a"/><circle cx="245.28" cy="590.96" r="0.85" fill="#1a1a1a"/><circle cx="245.28" cy="589.87" r="0.85" fill="#1a1a1a"/><path d="M254.58,588.47 L254.58,620.50 M254.58,641.81 L254.58,654.40" stroke="#1a1a1a" stroke-width="1.25" fill="none"/><path d="M251.53,588.47 L257.63,588.47" stroke="#1a1a1a" stroke-width="1.25"/><path d="M251.53,654.40 L257.63,654.40" stroke="#1a1a1a" stroke-width="1.25"/><rect x="249.93" y="620.50" width="9.30" height="21.30" fill="#b51b46" stroke="#1a1a1a" stroke-width="1.25"/><path d="M249.93,632.63 L259.23,632.63" stroke="#1a1a1a" stroke-width="1.25"/><circle cx="254.58" cy="586.76" r="0.85" fill="#1a1a1a"/><circle cx="254.58" cy="585.52" r="0.85" fill="#1a1a1a"/><circle cx="254.58" cy="584.43" r="0.85" fill="#1a1a1a"/><circle cx="254.58" cy="583.18" r="0.85" fill="#1a1a1a"/><circle cx="254.58" cy="582.09" r="0.85" fill="#1a1a1a"/><circle cx="254.58" cy="580.85" r="0.85" fill="#1a1a1a"/><circle cx="254.58" cy="579.76" r="0.85" fill="#1a1a1a"/><circle cx="254.58" cy="578.52" r="0.85" fill="#1a1a1a"/><circle cx="254.58" cy="577.43" r="0.85" fill="#1a1a1a"/><circle cx="254.58" cy="576.19" r="0.85" fill="#1a1a1a"/><circle cx="254.58" cy="575.10" r="0.85" fill="#1a1a1a"/><circle cx="254.58" cy="573.85" r="0.85" fill="#1a1a1a"/><circle cx="254.58" cy="572.76" r="0.85" fill="#1a1a1a"/><circle cx="254.58" cy="571.52" r="0.85" fill="#1a1a1a"/><circle cx="254.58" cy="570.43" r="0.85" fill="#1a1a1a"/><circle cx="254.58" cy="569.19" r="0.85" fill="#1a1a1a"/><circle cx="254.58" cy="568.10" r="0.85" fill="#1a1a1a"/><circle cx="254.58" cy="566.86" r="0.85" fill="#1a1a1a"/><circle cx="254.58" cy="565.77" r="0.85" fill="#1a1a1a"/><circle cx="254.58" cy="564.52" r="0.85" fill="#1a1a1a"/><circle cx="254.58" cy="563.43" r="0.85" fill="#1a1a1a"/><circle cx="254.58" cy="562.19" r="0.85" fill="#1a1a1a"/><circle cx="254.58" cy="556.44" r="0.85" fill="#1a1a1a"/><circle cx="254.58" cy="554.10" r="0.85" fill="#1a1a1a"/><path d="M268.65,586.60 L268.65,621.75 M268.65,644.92 L268.65,658.91" stroke="#1a1a1a" stroke-width="1.25" fill="none"/><path d="M265.60,586.60 L271.70,586.60" stroke="#1a1a1a" stroke-width="1.25"/><path d="M265.60,658.91 L271.70,658.91" stroke="#1a1a1a" stroke-width="1.25"/><rect x="264.00" y="621.75" width="9.30" height="23.17" fill="#207fc4" stroke="#1a1a1a" stroke-width="1.25"/><path d="M264.00,633.10 L273.30,633.10" stroke="#1a1a1a" stroke-width="1.25"/><circle cx="268.65" cy="585.20" r="0.85" fill="#1a1a1a"/><circle cx="268.65" cy="583.96" r="0.85" fill="#1a1a1a"/><circle cx="268.65" cy="582.87" r="0.85" fill="#1a1a1a"/><circle cx="268.65" cy="581.63" r="0.85" fill="#1a1a1a"/><circle cx="268.65" cy="580.54" r="0.85" fill="#1a1a1a"/><circle cx="268.65" cy="579.30" r="0.85" fill="#1a1a1a"/><circle cx="268.65" cy="578.21" r="0.85" fill="#1a1a1a"/><circle cx="268.65" cy="576.96" r="0.85" fill="#1a1a1a"/><circle cx="268.65" cy="575.88" r="0.85" fill="#1a1a1a"/><circle cx="268.65" cy="574.63" r="0.85" fill="#1a1a1a"/><circle cx="268.65" cy="573.54" r="0.85" fill="#1a1a1a"/><circle cx="268.65" cy="568.10" r="0.85" fill="#1a1a1a"/><path d="M277.95,588.63 L277.95,620.04 M277.95,641.03 L277.95,659.84" stroke="#1a1a1a" stroke-width="1.25" fill="none"/><path d="M274.90,588.63 L281.00,588.63" stroke="#1a1a1a" stroke-width="1.25"/><path d="M274.90,659.84 L281.00,659.84" stroke="#1a1a1a" stroke-width="1.25"/><rect x="273.30" y="620.04" width="9.30" height="20.99" fill="#b51b46" stroke="#1a1a1a" stroke-width="1.25"/><path d="M273.30,631.23 L282.60,631.23" stroke="#1a1a1a" stroke-width="1.25"/><circle cx="277.95" cy="586.76" r="0.85" fill="#1a1a1a"/><circle cx="277.95" cy="585.52" r="0.85" fill="#1a1a1a"/><circle cx="277.95" cy="584.43" r="0.85" fill="#1a1a1a"/><circle cx="277.95" cy="583.18" r="0.85" fill="#1a1a1a"/><circle cx="277.95" cy="582.09" r="0.85" fill="#1a1a1a"/><circle cx="277.95" cy="580.85" r="0.85" fill="#1a1a1a"/><circle cx="277.95" cy="579.76" r="0.85" fill="#1a1a1a"/><circle cx="277.95" cy="578.52" r="0.85" fill="#1a1a1a"/><circle cx="277.95" cy="577.43" r="0.85" fill="#1a1a1a"/><circle cx="277.95" cy="576.19" r="0.85" fill="#1a1a1a"/><circle cx="277.95" cy="575.10" r="0.85" fill="#1a1a1a"/><circle cx="277.95" cy="571.21" r="0.85" fill="#1a1a1a"/><path d="M292.02,584.12 L292.02,619.73 M292.02,643.05 L292.02,655.18" stroke="#1a1a1a" stroke-width="1.25" fill="none"/><path d="M288.97,584.12 L295.07,584.12" stroke="#1a1a1a" stroke-width="1.25"/><path d="M288.97,655.18 L295.07,655.18" stroke="#1a1a1a" stroke-width="1.25"/><rect x="287.37" y="619.73" width="9.30" height="23.32" fill="#207fc4" stroke="#1a1a1a" stroke-width="1.25"/><path d="M287.37,631.23 L296.67,631.23" stroke="#1a1a1a" stroke-width="1.25"/><circle cx="292.02" cy="582.87" r="0.85" fill="#1a1a1a"/><circle cx="292.02" cy="581.78" r="0.85" fill="#1a1a1a"/><circle cx="292.02" cy="580.54" r="0.85" fill="#1a1a1a"/><circle cx="292.02" cy="579.30" r="0.85" fill="#1a1a1a"/><circle cx="292.02" cy="578.21" r="0.85" fill="#1a1a1a"/><circle cx="292.02" cy="576.96" r="0.85" fill="#1a1a1a"/><circle cx="292.02" cy="575.88" r="0.85" fill="#1a1a1a"/><circle cx="292.02" cy="574.63" r="0.85" fill="#1a1a1a"/><circle cx="292.02" cy="573.54" r="0.85" fill="#1a1a1a"/><circle cx="292.02" cy="572.30" r="0.85" fill="#1a1a1a"/><circle cx="292.02" cy="571.21" r="0.85" fill="#1a1a1a"/><circle cx="292.02" cy="569.97" r="0.85" fill="#1a1a1a"/><circle cx="292.02" cy="568.88" r="0.85" fill="#1a1a1a"/><circle cx="292.02" cy="567.63" r="0.85" fill="#1a1a1a"/><circle cx="292.02" cy="566.54" r="0.85" fill="#1a1a1a"/><circle cx="292.02" cy="565.30" r="0.85" fill="#1a1a1a"/><circle cx="292.02" cy="564.21" r="0.85" fill="#1a1a1a"/><path d="M301.32,588.63 L301.32,620.97 M301.32,642.27 L301.32,658.60" stroke="#1a1a1a" stroke-width="1.25" fill="none"/><path d="M298.27,588.63 L304.37,588.63" stroke="#1a1a1a" stroke-width="1.25"/><path d="M298.27,658.60 L304.37,658.60" stroke="#1a1a1a" stroke-width="1.25"/><rect x="296.67" y="620.97" width="9.30" height="21.30" fill="#b51b46" stroke="#1a1a1a" stroke-width="1.25"/><path d="M296.67,632.63 L305.97,632.63" stroke="#1a1a1a" stroke-width="1.25"/><circle cx="301.32" cy="586.76" r="0.85" fill="#1a1a1a"/><circle cx="301.32" cy="585.52" r="0.85" fill="#1a1a1a"/><circle cx="301.32" cy="584.43" r="0.85" fill="#1a1a1a"/><circle cx="301.32" cy="583.18" r="0.85" fill="#1a1a1a"/><circle cx="301.32" cy="582.09" r="0.85" fill="#1a1a1a"/><circle cx="301.32" cy="580.85" r="0.85" fill="#1a1a1a"/><circle cx="301.32" cy="579.76" r="0.85" fill="#1a1a1a"/><circle cx="301.32" cy="578.52" r="0.85" fill="#1a1a1a"/><circle cx="301.32" cy="577.43" r="0.85" fill="#1a1a1a"/><circle cx="301.32" cy="576.19" r="0.85" fill="#1a1a1a"/><circle cx="301.32" cy="575.10" r="0.85" fill="#1a1a1a"/><circle cx="301.32" cy="573.85" r="0.85" fill="#1a1a1a"/><circle cx="301.32" cy="572.76" r="0.85" fill="#1a1a1a"/><circle cx="301.32" cy="571.52" r="0.85" fill="#1a1a1a"/><circle cx="301.32" cy="570.43" r="0.85" fill="#1a1a1a"/><circle cx="301.32" cy="569.19" r="0.85" fill="#1a1a1a"/><circle cx="301.32" cy="568.10" r="0.85" fill="#1a1a1a"/><circle cx="301.32" cy="566.86" r="0.85" fill="#1a1a1a"/><circle cx="301.32" cy="565.77" r="0.85" fill="#1a1a1a"/><circle cx="301.32" cy="564.52" r="0.85" fill="#1a1a1a"/><circle cx="301.32" cy="563.43" r="0.85" fill="#1a1a1a"/><path d="M315.39,642.27 L315.39,642.27 M315.39,649.43 L315.39,651.91" stroke="#1a1a1a" stroke-width="1.25" fill="none"/><path d="M312.34,651.91 L318.44,651.91" stroke="#1a1a1a" stroke-width="1.25"/><rect x="310.74" y="642.27" width="9.30" height="7.15" fill="#207fc4" stroke="#1a1a1a" stroke-width="1.25"/><path d="M310.74,645.54 L320.04,645.54" stroke="#1a1a1a" stroke-width="1.25"/><circle cx="315.39" cy="631.85" r="0.85" fill="#1a1a1a"/><path d="M324.69,586.14 L324.69,620.50 M324.69,643.05 L324.69,653.16" stroke="#1a1a1a" stroke-width="1.25" fill="none"/><path d="M321.64,586.14 L327.74,586.14" stroke="#1a1a1a" stroke-width="1.25"/><path d="M321.64,653.16 L327.74,653.16" stroke="#1a1a1a" stroke-width="1.25"/><rect x="320.04" y="620.50" width="9.30" height="22.55" fill="#b51b46" stroke="#1a1a1a" stroke-width="1.25"/><path d="M320.04,631.23 L329.34,631.23" stroke="#1a1a1a" stroke-width="1.25"/><circle cx="324.69" cy="584.43" r="0.85" fill="#1a1a1a"/><circle cx="324.69" cy="583.18" r="0.85" fill="#1a1a1a"/><circle cx="324.69" cy="582.09" r="0.85" fill="#1a1a1a"/><circle cx="324.69" cy="580.85" r="0.85" fill="#1a1a1a"/><circle cx="324.69" cy="579.76" r="0.85" fill="#1a1a1a"/><circle cx="324.69" cy="578.52" r="0.85" fill="#1a1a1a"/><circle cx="324.69" cy="577.43" r="0.85" fill="#1a1a1a"/><circle cx="324.69" cy="572.76" r="0.85" fill="#1a1a1a"/><path d="M338.76,615.53 L338.76,633.10 M338.76,646.16 L338.76,651.91" stroke="#1a1a1a" stroke-width="1.25" fill="none"/><path d="M335.71,615.53 L341.81,615.53" stroke="#1a1a1a" stroke-width="1.25"/><path d="M335.71,651.91 L341.81,651.91" stroke="#1a1a1a" stroke-width="1.25"/><rect x="334.11" y="633.10" width="9.30" height="13.06" fill="#207fc4" stroke="#1a1a1a" stroke-width="1.25"/><path d="M334.11,640.56 L343.41,640.56" stroke="#1a1a1a" stroke-width="1.25"/><circle cx="338.76" cy="613.97" r="0.85" fill="#1a1a1a"/><circle cx="338.76" cy="611.95" r="0.85" fill="#1a1a1a"/><circle cx="338.76" cy="609.93" r="0.85" fill="#1a1a1a"/><circle cx="338.76" cy="607.91" r="0.85" fill="#1a1a1a"/><circle cx="338.76" cy="605.89" r="0.85" fill="#1a1a1a"/><circle cx="338.76" cy="603.87" r="0.85" fill="#1a1a1a"/><circle cx="338.76" cy="601.84" r="0.85" fill="#1a1a1a"/><circle cx="338.76" cy="599.82" r="0.85" fill="#1a1a1a"/><circle cx="338.76" cy="597.80" r="0.85" fill="#1a1a1a"/><circle cx="338.76" cy="592.98" r="0.85" fill="#1a1a1a"/><circle cx="338.76" cy="590.65" r="0.85" fill="#1a1a1a"/><path d="M348.06,579.92 L348.06,617.55 M348.06,641.81 L348.06,653.16" stroke="#1a1a1a" stroke-width="1.25" fill="none"/><path d="M345.01,579.92 L351.11,579.92" stroke="#1a1a1a" stroke-width="1.25"/><path d="M345.01,653.16 L351.11,653.16" stroke="#1a1a1a" stroke-width="1.25"/><rect x="343.41" y="617.55" width="9.30" height="24.26" fill="#b51b46" stroke="#1a1a1a" stroke-width="1.25"/><path d="M343.41,631.23 L352.71,631.23" stroke="#1a1a1a" stroke-width="1.25"/><circle cx="348.06" cy="578.98" r="0.85" fill="#1a1a1a"/><circle cx="348.06" cy="576.96" r="0.85" fill="#1a1a1a"/><circle cx="348.06" cy="574.94" r="0.85" fill="#1a1a1a"/><circle cx="348.06" cy="572.92" r="0.85" fill="#1a1a1a"/><path d="M362.14,620.50 L362.14,635.59 M362.14,645.54 L362.14,650.67" stroke="#1a1a1a" stroke-width="1.25" fill="none"/><path d="M359.09,620.50 L365.19,620.50" stroke="#1a1a1a" stroke-width="1.25"/><path d="M359.09,650.67 L365.19,650.67" stroke="#1a1a1a" stroke-width="1.25"/><rect x="357.49" y="635.59" width="9.30" height="9.95" fill="#207fc4" stroke="#1a1a1a" stroke-width="1.25"/><path d="M357.49,641.03 L366.79,641.03" stroke="#1a1a1a" stroke-width="1.25"/><circle cx="362.14" cy="619.41" r="0.85" fill="#1a1a1a"/><circle cx="362.14" cy="618.33" r="0.85" fill="#1a1a1a"/><circle cx="362.14" cy="617.08" r="0.85" fill="#1a1a1a"/><circle cx="362.14" cy="615.99" r="0.85" fill="#1a1a1a"/><circle cx="362.14" cy="614.75" r="0.85" fill="#1a1a1a"/><circle cx="362.14" cy="613.66" r="0.85" fill="#1a1a1a"/><circle cx="362.14" cy="612.42" r="0.85" fill="#1a1a1a"/><circle cx="362.14" cy="608.53" r="0.85" fill="#1a1a1a"/><circle cx="362.14" cy="605.42" r="0.85" fill="#1a1a1a"/><circle cx="362.14" cy="602.31" r="0.85" fill="#1a1a1a"/><circle cx="362.14" cy="599.20" r="0.85" fill="#1a1a1a"/><path d="M371.44,583.65 L371.44,614.75 M371.44,642.27 L371.44,652.38" stroke="#1a1a1a" stroke-width="1.25" fill="none"/><path d="M368.39,583.65 L374.49,583.65" stroke="#1a1a1a" stroke-width="1.25"/><path d="M368.39,652.38 L374.49,652.38" stroke="#1a1a1a" stroke-width="1.25"/><rect x="366.79" y="614.75" width="9.30" height="27.52" fill="#b51b46" stroke="#1a1a1a" stroke-width="1.25"/><path d="M366.79,633.10 L376.09,633.10" stroke="#1a1a1a" stroke-width="1.25"/><path d="M385.51,629.99 L385.51,633.10 M385.51,642.58 L385.51,648.18" stroke="#1a1a1a" stroke-width="1.25" fill="none"/><path d="M382.46,629.99 L388.56,629.99" stroke="#1a1a1a" stroke-width="1.25"/><path d="M382.46,648.18 L388.56,648.18" stroke="#1a1a1a" stroke-width="1.25"/><rect x="380.86" y="633.10" width="9.30" height="9.49" fill="#207fc4" stroke="#1a1a1a" stroke-width="1.25"/><path d="M380.86,637.30 L390.16,637.30" stroke="#1a1a1a" stroke-width="1.25"/><circle cx="385.51" cy="613.97" r="0.85" fill="#1a1a1a"/><circle cx="385.51" cy="609.31" r="0.85" fill="#1a1a1a"/><circle cx="385.51" cy="572.76" r="0.85" fill="#1a1a1a"/><path d="M394.81,597.96 L394.81,623.77 M394.81,641.03 L394.81,652.38" stroke="#1a1a1a" stroke-width="1.25" fill="none"/><path d="M391.76,597.96 L397.86,597.96" stroke="#1a1a1a" stroke-width="1.25"/><path d="M391.76,652.38 L397.86,652.38" stroke="#1a1a1a" stroke-width="1.25"/><rect x="390.16" y="623.77" width="9.30" height="17.26" fill="#b51b46" stroke="#1a1a1a" stroke-width="1.25"/><path d="M390.16,633.88 L399.46,633.88" stroke="#1a1a1a" stroke-width="1.25"/><circle cx="394.81" cy="596.09" r="0.85" fill="#1a1a1a"/><circle cx="394.81" cy="594.85" r="0.85" fill="#1a1a1a"/><circle cx="394.81" cy="593.76" r="0.85" fill="#1a1a1a"/><circle cx="394.81" cy="592.51" r="0.85" fill="#1a1a1a"/><circle cx="394.81" cy="591.42" r="0.85" fill="#1a1a1a"/><circle cx="394.81" cy="590.18" r="0.85" fill="#1a1a1a"/><circle cx="394.81" cy="589.09" r="0.85" fill="#1a1a1a"/><circle cx="394.81" cy="587.85" r="0.85" fill="#1a1a1a"/><circle cx="394.81" cy="586.76" r="0.85" fill="#1a1a1a"/><circle cx="394.81" cy="585.52" r="0.85" fill="#1a1a1a"/><circle cx="394.81" cy="584.43" r="0.85" fill="#1a1a1a"/><circle cx="394.81" cy="583.18" r="0.85" fill="#1a1a1a"/><circle cx="394.81" cy="582.09" r="0.85" fill="#1a1a1a"/><circle cx="394.81" cy="580.85" r="0.85" fill="#1a1a1a"/><circle cx="394.81" cy="579.76" r="0.85" fill="#1a1a1a"/><circle cx="394.81" cy="578.52" r="0.85" fill="#1a1a1a"/><circle cx="394.81" cy="577.43" r="0.85" fill="#1a1a1a"/><circle cx="394.81" cy="574.32" r="0.85" fill="#1a1a1a"/><circle cx="394.81" cy="570.43" r="0.85" fill="#1a1a1a"/><circle cx="394.81" cy="566.54" r="0.85" fill="#1a1a1a"/><path d="M408.88,602.15 L408.88,626.72 M408.88,643.52 L408.88,654.40" stroke="#1a1a1a" stroke-width="1.25" fill="none"/><path d="M405.83,602.15 L411.93,602.15" stroke="#1a1a1a" stroke-width="1.25"/><path d="M405.83,654.40 L411.93,654.40" stroke="#1a1a1a" stroke-width="1.25"/><rect x="404.23" y="626.72" width="9.30" height="16.79" fill="#207fc4" stroke="#1a1a1a" stroke-width="1.25"/><path d="M404.23,637.61 L413.53,637.61" stroke="#1a1a1a" stroke-width="1.25"/><circle cx="408.88" cy="600.75" r="0.85" fill="#1a1a1a"/><circle cx="408.88" cy="599.67" r="0.85" fill="#1a1a1a"/><circle cx="408.88" cy="598.42" r="0.85" fill="#1a1a1a"/><circle cx="408.88" cy="597.33" r="0.85" fill="#1a1a1a"/><circle cx="408.88" cy="596.09" r="0.85" fill="#1a1a1a"/><circle cx="408.88" cy="594.85" r="0.85" fill="#1a1a1a"/><circle cx="408.88" cy="593.76" r="0.85" fill="#1a1a1a"/><circle cx="408.88" cy="592.51" r="0.85" fill="#1a1a1a"/><circle cx="408.88" cy="591.42" r="0.85" fill="#1a1a1a"/><circle cx="408.88" cy="590.18" r="0.85" fill="#1a1a1a"/><circle cx="408.88" cy="586.76" r="0.85" fill="#1a1a1a"/><circle cx="408.88" cy="583.65" r="0.85" fill="#1a1a1a"/><circle cx="408.88" cy="580.54" r="0.85" fill="#1a1a1a"/><circle cx="408.88" cy="576.65" r="0.85" fill="#1a1a1a"/><path d="M418.18,583.65 L418.18,618.79 M418.18,641.81 L418.18,658.13" stroke="#1a1a1a" stroke-width="1.25" fill="none"/><path d="M415.13,583.65 L421.23,583.65" stroke="#1a1a1a" stroke-width="1.25"/><path d="M415.13,658.13 L421.23,658.13" stroke="#1a1a1a" stroke-width="1.25"/><rect x="413.53" y="618.79" width="9.30" height="23.01" fill="#b51b46" stroke="#1a1a1a" stroke-width="1.25"/><path d="M413.53,632.63 L422.83,632.63" stroke="#1a1a1a" stroke-width="1.25"/><circle cx="418.18" cy="582.09" r="0.85" fill="#1a1a1a"/><circle cx="418.18" cy="580.85" r="0.85" fill="#1a1a1a"/><circle cx="418.18" cy="579.76" r="0.85" fill="#1a1a1a"/><circle cx="418.18" cy="578.52" r="0.85" fill="#1a1a1a"/><circle cx="418.18" cy="577.43" r="0.85" fill="#1a1a1a"/><circle cx="418.18" cy="576.19" r="0.85" fill="#1a1a1a"/><circle cx="418.18" cy="575.10" r="0.85" fill="#1a1a1a"/><circle cx="418.18" cy="573.85" r="0.85" fill="#1a1a1a"/><circle cx="418.18" cy="572.76" r="0.85" fill="#1a1a1a"/><circle cx="418.18" cy="571.52" r="0.85" fill="#1a1a1a"/><circle cx="418.18" cy="570.43" r="0.85" fill="#1a1a1a"/><circle cx="418.18" cy="569.19" r="0.85" fill="#1a1a1a"/><circle cx="418.18" cy="568.10" r="0.85" fill="#1a1a1a"/><circle cx="418.18" cy="566.86" r="0.85" fill="#1a1a1a"/><circle cx="418.18" cy="548.66" r="0.85" fill="#1a1a1a"/><path d="M432.25,621.28 L432.25,635.59 M432.25,644.92 L432.25,650.67" stroke="#1a1a1a" stroke-width="1.25" fill="none"/><path d="M429.20,621.28 L435.30,621.28" stroke="#1a1a1a" stroke-width="1.25"/><path d="M429.20,650.67 L435.30,650.67" stroke="#1a1a1a" stroke-width="1.25"/><rect x="427.60" y="635.59" width="9.30" height="9.33" fill="#207fc4" stroke="#1a1a1a" stroke-width="1.25"/><path d="M427.60,641.03 L436.90,641.03" stroke="#1a1a1a" stroke-width="1.25"/><circle cx="432.25" cy="619.41" r="0.85" fill="#1a1a1a"/><circle cx="432.25" cy="618.33" r="0.85" fill="#1a1a1a"/><circle cx="432.25" cy="617.08" r="0.85" fill="#1a1a1a"/><circle cx="432.25" cy="615.99" r="0.85" fill="#1a1a1a"/><circle cx="432.25" cy="614.75" r="0.85" fill="#1a1a1a"/><circle cx="432.25" cy="613.66" r="0.85" fill="#1a1a1a"/><circle cx="432.25" cy="612.42" r="0.85" fill="#1a1a1a"/><circle cx="432.25" cy="611.33" r="0.85" fill="#1a1a1a"/><circle cx="432.25" cy="610.08" r="0.85" fill="#1a1a1a"/><circle cx="432.25" cy="606.97" r="0.85" fill="#1a1a1a"/><circle cx="432.25" cy="603.87" r="0.85" fill="#1a1a1a"/><circle cx="432.25" cy="599.20" r="0.85" fill="#1a1a1a"/><circle cx="432.25" cy="585.20" r="0.85" fill="#1a1a1a"/><path d="M441.55,576.65 L441.55,616.30 M441.55,641.81 L441.55,652.38" stroke="#1a1a1a" stroke-width="1.25" fill="none"/><path d="M438.50,576.65 L444.60,576.65" stroke="#1a1a1a" stroke-width="1.25"/><path d="M438.50,652.38 L444.60,652.38" stroke="#1a1a1a" stroke-width="1.25"/><rect x="436.90" y="616.30" width="9.30" height="25.50" fill="#b51b46" stroke="#1a1a1a" stroke-width="1.25"/><path d="M436.90,633.57 L446.20,633.57" stroke="#1a1a1a" stroke-width="1.25"/><circle cx="441.55" cy="574.32" r="0.85" fill="#1a1a1a"/><circle cx="441.55" cy="571.21" r="0.85" fill="#1a1a1a"/><path d="M455.62,625.48 L455.62,639.32 M455.62,649.43 L455.62,653.94" stroke="#1a1a1a" stroke-width="1.25" fill="none"/><path d="M452.57,625.48 L458.67,625.48" stroke="#1a1a1a" stroke-width="1.25"/><path d="M452.57,653.94 L458.67,653.94" stroke="#1a1a1a" stroke-width="1.25"/><rect x="450.97" y="639.32" width="9.30" height="10.11" fill="#207fc4" stroke="#1a1a1a" stroke-width="1.25"/><path d="M450.97,646.32 L460.27,646.32" stroke="#1a1a1a" stroke-width="1.25"/><circle cx="455.62" cy="624.08" r="0.85" fill="#1a1a1a"/><circle cx="455.62" cy="621.75" r="0.85" fill="#1a1a1a"/><circle cx="455.62" cy="619.41" r="0.85" fill="#1a1a1a"/><circle cx="455.62" cy="595.31" r="0.85" fill="#1a1a1a"/><path d="M464.92,585.36 L464.92,619.26 M464.92,642.27 L464.92,658.60" stroke="#1a1a1a" stroke-width="1.25" fill="none"/><path d="M461.87,585.36 L467.97,585.36" stroke="#1a1a1a" stroke-width="1.25"/><path d="M461.87,658.60 L467.97,658.60" stroke="#1a1a1a" stroke-width="1.25"/><rect x="460.27" y="619.26" width="9.30" height="23.01" fill="#b51b46" stroke="#1a1a1a" stroke-width="1.25"/><path d="M460.27,630.61 L469.57,630.61" stroke="#1a1a1a" stroke-width="1.25"/><circle cx="464.92" cy="583.65" r="0.85" fill="#1a1a1a"/><circle cx="464.92" cy="582.41" r="0.85" fill="#1a1a1a"/><circle cx="464.92" cy="581.32" r="0.85" fill="#1a1a1a"/><circle cx="464.92" cy="580.07" r="0.85" fill="#1a1a1a"/><circle cx="464.92" cy="578.98" r="0.85" fill="#1a1a1a"/><circle cx="464.92" cy="577.74" r="0.85" fill="#1a1a1a"/><circle cx="464.92" cy="576.65" r="0.85" fill="#1a1a1a"/><circle cx="464.92" cy="575.41" r="0.85" fill="#1a1a1a"/><circle cx="464.92" cy="574.32" r="0.85" fill="#1a1a1a"/><circle cx="464.92" cy="573.08" r="0.85" fill="#1a1a1a"/><circle cx="464.92" cy="571.99" r="0.85" fill="#1a1a1a"/><path d="M478.99,581.16 L478.99,613.04 M478.99,633.88 L478.99,658.91" stroke="#1a1a1a" stroke-width="1.25" fill="none"/><path d="M475.94,581.16 L482.04,581.16" stroke="#1a1a1a" stroke-width="1.25"/><path d="M475.94,658.91 L482.04,658.91" stroke="#1a1a1a" stroke-width="1.25"/><rect x="474.34" y="613.04" width="9.30" height="20.84" fill="#207fc4" stroke="#1a1a1a" stroke-width="1.25"/><path d="M474.34,623.46 L483.64,623.46" stroke="#1a1a1a" stroke-width="1.25"/><circle cx="478.99" cy="579.76" r="0.85" fill="#1a1a1a"/><circle cx="478.99" cy="578.52" r="0.85" fill="#1a1a1a"/><circle cx="478.99" cy="577.43" r="0.85" fill="#1a1a1a"/><circle cx="478.99" cy="576.19" r="0.85" fill="#1a1a1a"/><circle cx="478.99" cy="575.10" r="0.85" fill="#1a1a1a"/><circle cx="478.99" cy="573.85" r="0.85" fill="#1a1a1a"/><circle cx="478.99" cy="572.76" r="0.85" fill="#1a1a1a"/><circle cx="478.99" cy="571.52" r="0.85" fill="#1a1a1a"/><circle cx="478.99" cy="570.43" r="0.85" fill="#1a1a1a"/><circle cx="478.99" cy="569.19" r="0.85" fill="#1a1a1a"/><path d="M488.29,599.20 L488.29,628.75 M488.29,646.78 L488.29,661.09" stroke="#1a1a1a" stroke-width="1.25" fill="none"/><path d="M485.24,599.20 L491.34,599.20" stroke="#1a1a1a" stroke-width="1.25"/><path d="M485.24,661.09 L491.34,661.09" stroke="#1a1a1a" stroke-width="1.25"/><rect x="483.64" y="628.75" width="9.30" height="18.04" fill="#b51b46" stroke="#1a1a1a" stroke-width="1.25"/><path d="M483.64,638.07 L492.94,638.07" stroke="#1a1a1a" stroke-width="1.25"/><circle cx="488.29" cy="597.64" r="0.85" fill="#1a1a1a"/><circle cx="488.29" cy="596.40" r="0.85" fill="#1a1a1a"/><circle cx="488.29" cy="595.31" r="0.85" fill="#1a1a1a"/><circle cx="488.29" cy="594.07" r="0.85" fill="#1a1a1a"/><circle cx="488.29" cy="592.98" r="0.85" fill="#1a1a1a"/><circle cx="488.29" cy="591.74" r="0.85" fill="#1a1a1a"/><circle cx="488.29" cy="590.65" r="0.85" fill="#1a1a1a"/><circle cx="488.29" cy="589.40" r="0.85" fill="#1a1a1a"/><circle cx="488.29" cy="588.31" r="0.85" fill="#1a1a1a"/><circle cx="488.29" cy="587.07" r="0.85" fill="#1a1a1a"/><circle cx="488.29" cy="585.98" r="0.85" fill="#1a1a1a"/><circle cx="488.29" cy="584.74" r="0.85" fill="#1a1a1a"/><circle cx="488.29" cy="583.65" r="0.85" fill="#1a1a1a"/><circle cx="488.29" cy="582.41" r="0.85" fill="#1a1a1a"/><path d="M502.36,584.12 L502.36,612.42 M502.36,632.32 L502.36,659.84" stroke="#1a1a1a" stroke-width="1.25" fill="none"/><path d="M499.31,584.12 L505.41,584.12" stroke="#1a1a1a" stroke-width="1.25"/><path d="M499.31,659.84 L505.41,659.84" stroke="#1a1a1a" stroke-width="1.25"/><rect x="497.71" y="612.42" width="9.30" height="19.90" fill="#207fc4" stroke="#1a1a1a" stroke-width="1.25"/><path d="M497.71,622.52 L507.01,622.52" stroke="#1a1a1a" stroke-width="1.25"/><circle cx="502.36" cy="582.09" r="0.85" fill="#1a1a1a"/><circle cx="502.36" cy="578.98" r="0.85" fill="#1a1a1a"/><circle cx="502.36" cy="662.18" r="0.85" fill="#1a1a1a"/><path d="M511.66,599.20 L511.66,628.75 M511.66,648.65 L511.66,661.87" stroke="#1a1a1a" stroke-width="1.25" fill="none"/><path d="M508.61,599.20 L514.71,599.20" stroke="#1a1a1a" stroke-width="1.25"/><path d="M508.61,661.87 L514.71,661.87" stroke="#1a1a1a" stroke-width="1.25"/><rect x="507.01" y="628.75" width="9.30" height="19.90" fill="#b51b46" stroke="#1a1a1a" stroke-width="1.25"/><path d="M507.01,639.79 L516.31,639.79" stroke="#1a1a1a" stroke-width="1.25"/><circle cx="511.66" cy="597.64" r="0.85" fill="#1a1a1a"/><circle cx="511.66" cy="595.31" r="0.85" fill="#1a1a1a"/><circle cx="511.66" cy="592.98" r="0.85" fill="#1a1a1a"/><circle cx="511.66" cy="591.42" r="0.85" fill="#1a1a1a"/><circle cx="511.66" cy="585.98" r="0.85" fill="#1a1a1a"/><path d="M525.74,582.41 L525.74,615.99 M525.74,639.32 L525.74,651.29" stroke="#1a1a1a" stroke-width="1.25" fill="none"/><path d="M522.69,582.41 L528.79,582.41" stroke="#1a1a1a" stroke-width="1.25"/><path d="M522.69,651.29 L528.79,651.29" stroke="#1a1a1a" stroke-width="1.25"/><rect x="521.09" y="615.99" width="9.30" height="23.33" fill="#207fc4" stroke="#1a1a1a" stroke-width="1.25"/><path d="M521.09,629.37 L530.39,629.37" stroke="#1a1a1a" stroke-width="1.25"/><circle cx="525.74" cy="578.21" r="0.85" fill="#1a1a1a"/><circle cx="525.74" cy="574.32" r="0.85" fill="#1a1a1a"/><path d="M535.04,621.28 L535.04,635.59 M535.04,646.32 L535.04,653.94" stroke="#1a1a1a" stroke-width="1.25" fill="none"/><path d="M531.99,621.28 L538.09,621.28" stroke="#1a1a1a" stroke-width="1.25"/><path d="M531.99,653.94 L538.09,653.94" stroke="#1a1a1a" stroke-width="1.25"/><rect x="530.39" y="635.59" width="9.30" height="10.73" fill="#b51b46" stroke="#1a1a1a" stroke-width="1.25"/><path d="M530.39,641.34 L539.69,641.34" stroke="#1a1a1a" stroke-width="1.25"/><circle cx="535.04" cy="619.41" r="0.85" fill="#1a1a1a"/><circle cx="535.04" cy="617.39" r="0.85" fill="#1a1a1a"/><circle cx="535.04" cy="615.37" r="0.85" fill="#1a1a1a"/><circle cx="535.04" cy="613.35" r="0.85" fill="#1a1a1a"/><circle cx="535.04" cy="611.33" r="0.85" fill="#1a1a1a"/><circle cx="535.04" cy="609.31" r="0.85" fill="#1a1a1a"/><circle cx="535.04" cy="607.29" r="0.85" fill="#1a1a1a"/><circle cx="535.04" cy="605.26" r="0.85" fill="#1a1a1a"/><circle cx="535.04" cy="603.24" r="0.85" fill="#1a1a1a"/><circle cx="535.04" cy="601.22" r="0.85" fill="#1a1a1a"/><circle cx="535.04" cy="599.20" r="0.85" fill="#1a1a1a"/><circle cx="535.04" cy="589.09" r="0.85" fill="#1a1a1a"/><path d="M549.11,581.63 L549.11,616.77 M549.11,640.56 L549.11,656.11" stroke="#1a1a1a" stroke-width="1.25" fill="none"/><path d="M546.06,581.63 L552.16,581.63" stroke="#1a1a1a" stroke-width="1.25"/><path d="M546.06,656.11 L552.16,656.11" stroke="#1a1a1a" stroke-width="1.25"/><rect x="544.46" y="616.77" width="9.30" height="23.79" fill="#207fc4" stroke="#1a1a1a" stroke-width="1.25"/><path d="M544.46,629.83 L553.76,629.83" stroke="#1a1a1a" stroke-width="1.25"/><circle cx="549.11" cy="580.54" r="0.85" fill="#1a1a1a"/><circle cx="549.11" cy="578.67" r="0.85" fill="#1a1a1a"/><circle cx="549.11" cy="576.81" r="0.85" fill="#1a1a1a"/><circle cx="549.11" cy="574.94" r="0.85" fill="#1a1a1a"/><circle cx="549.11" cy="573.08" r="0.85" fill="#1a1a1a"/><circle cx="549.11" cy="567.32" r="0.85" fill="#1a1a1a"/><path d="M558.41,596.71 L558.41,626.10 M558.41,645.54 L558.41,656.42" stroke="#1a1a1a" stroke-width="1.25" fill="none"/><path d="M555.36,596.71 L561.46,596.71" stroke="#1a1a1a" stroke-width="1.25"/><path d="M555.36,656.42 L561.46,656.42" stroke="#1a1a1a" stroke-width="1.25"/><rect x="553.76" y="626.10" width="9.30" height="19.44" fill="#b51b46" stroke="#1a1a1a" stroke-width="1.25"/><path d="M553.76,637.30 L563.06,637.30" stroke="#1a1a1a" stroke-width="1.25"/><circle cx="558.41" cy="594.53" r="0.85" fill="#1a1a1a"/><circle cx="558.41" cy="593.29" r="0.85" fill="#1a1a1a"/><circle cx="558.41" cy="592.20" r="0.85" fill="#1a1a1a"/><circle cx="558.41" cy="590.96" r="0.85" fill="#1a1a1a"/><circle cx="558.41" cy="589.87" r="0.85" fill="#1a1a1a"/><circle cx="558.41" cy="588.63" r="0.85" fill="#1a1a1a"/><circle cx="558.41" cy="587.54" r="0.85" fill="#1a1a1a"/><circle cx="558.41" cy="586.29" r="0.85" fill="#1a1a1a"/><circle cx="558.41" cy="585.20" r="0.85" fill="#1a1a1a"/><path d="M572.48,581.16 L572.48,615.53 M572.48,640.10 L572.48,653.62" stroke="#1a1a1a" stroke-width="1.25" fill="none"/><path d="M569.43,581.16 L575.53,581.16" stroke="#1a1a1a" stroke-width="1.25"/><path d="M569.43,653.62 L575.53,653.62" stroke="#1a1a1a" stroke-width="1.25"/><rect x="567.83" y="615.53" width="9.30" height="24.57" fill="#207fc4" stroke="#1a1a1a" stroke-width="1.25"/><path d="M567.83,629.99 L577.13,629.99" stroke="#1a1a1a" stroke-width="1.25"/><circle cx="572.48" cy="578.21" r="0.85" fill="#1a1a1a"/><path d="M581.78,607.29 L581.78,629.99 M581.78,645.54 L581.78,658.13" stroke="#1a1a1a" stroke-width="1.25" fill="none"/><path d="M578.73,607.29 L584.83,607.29" stroke="#1a1a1a" stroke-width="1.25"/><path d="M578.73,658.13 L584.83,658.13" stroke="#1a1a1a" stroke-width="1.25"/><rect x="577.13" y="629.99" width="9.30" height="15.55" fill="#b51b46" stroke="#1a1a1a" stroke-width="1.25"/><path d="M577.13,638.85 L586.43,638.85" stroke="#1a1a1a" stroke-width="1.25"/><circle cx="581.78" cy="605.42" r="0.85" fill="#1a1a1a"/><circle cx="581.78" cy="604.18" r="0.85" fill="#1a1a1a"/><circle cx="581.78" cy="603.09" r="0.85" fill="#1a1a1a"/><circle cx="581.78" cy="602.00" r="0.85" fill="#1a1a1a"/><circle cx="581.78" cy="600.75" r="0.85" fill="#1a1a1a"/><circle cx="581.78" cy="599.67" r="0.85" fill="#1a1a1a"/><circle cx="581.78" cy="598.42" r="0.85" fill="#1a1a1a"/><circle cx="581.78" cy="597.33" r="0.85" fill="#1a1a1a"/><circle cx="581.78" cy="596.09" r="0.85" fill="#1a1a1a"/><circle cx="581.78" cy="592.98" r="0.85" fill="#1a1a1a"/><circle cx="581.78" cy="590.65" r="0.85" fill="#1a1a1a"/><circle cx="581.78" cy="588.31" r="0.85" fill="#1a1a1a"/><circle cx="581.78" cy="585.98" r="0.85" fill="#1a1a1a"/><circle cx="581.78" cy="583.65" r="0.85" fill="#1a1a1a"/><circle cx="581.78" cy="578.21" r="0.85" fill="#1a1a1a"/><path d="M595.85,582.87 L595.85,612.42 M595.85,633.10 L595.85,661.87" stroke="#1a1a1a" stroke-width="1.25" fill="none"/><path d="M592.80,582.87 L598.90,582.87" stroke="#1a1a1a" stroke-width="1.25"/><path d="M592.80,661.87 L598.90,661.87" stroke="#1a1a1a" stroke-width="1.25"/><rect x="591.20" y="612.42" width="9.30" height="20.68" fill="#207fc4" stroke="#1a1a1a" stroke-width="1.25"/><path d="M591.20,622.52 L600.50,622.52" stroke="#1a1a1a" stroke-width="1.25"/><circle cx="595.85" cy="581.32" r="0.85" fill="#1a1a1a"/><circle cx="595.85" cy="578.98" r="0.85" fill="#1a1a1a"/><path d="M605.15,597.96 L605.15,627.97 M605.15,647.56 L605.15,662.33" stroke="#1a1a1a" stroke-width="1.25" fill="none"/><path d="M602.10,597.96 L608.20,597.96" stroke="#1a1a1a" stroke-width="1.25"/><path d="M602.10,662.33 L608.20,662.33" stroke="#1a1a1a" stroke-width="1.25"/><rect x="600.50" y="627.97" width="9.30" height="19.59" fill="#b51b46" stroke="#1a1a1a" stroke-width="1.25"/><path d="M600.50,639.32 L609.80,639.32" stroke="#1a1a1a" stroke-width="1.25"/><circle cx="605.15" cy="596.87" r="0.85" fill="#1a1a1a"/><circle cx="605.15" cy="594.53" r="0.85" fill="#1a1a1a"/><circle cx="605.15" cy="592.20" r="0.85" fill="#1a1a1a"/><path d="M619.22,584.58 L619.22,616.77 M619.22,638.07 L619.22,657.67" stroke="#1a1a1a" stroke-width="1.25" fill="none"/><path d="M616.17,584.58 L622.27,584.58" stroke="#1a1a1a" stroke-width="1.25"/><path d="M616.17,657.67 L622.27,657.67" stroke="#1a1a1a" stroke-width="1.25"/><rect x="614.57" y="616.77" width="9.30" height="21.30" fill="#207fc4" stroke="#1a1a1a" stroke-width="1.25"/><path d="M614.57,627.35 L623.87,627.35" stroke="#1a1a1a" stroke-width="1.25"/><circle cx="619.22" cy="583.65" r="0.85" fill="#1a1a1a"/><path d="M628.52,589.71 L628.52,624.86 M628.52,648.18 L628.52,661.87" stroke="#1a1a1a" stroke-width="1.25" fill="none"/><path d="M625.47,589.71 L631.57,589.71" stroke="#1a1a1a" stroke-width="1.25"/><path d="M625.47,661.87 L631.57,661.87" stroke="#1a1a1a" stroke-width="1.25"/><rect x="623.87" y="624.86" width="9.30" height="23.33" fill="#b51b46" stroke="#1a1a1a" stroke-width="1.25"/><path d="M623.87,639.32 L633.17,639.32" stroke="#1a1a1a" stroke-width="1.25"/><circle cx="628.52" cy="587.54" r="0.85" fill="#1a1a1a"/><path d="M642.59,574.63 L642.59,612.26 M642.59,638.07 L642.59,654.40" stroke="#1a1a1a" stroke-width="1.25" fill="none"/><path d="M639.54,574.63 L645.64,574.63" stroke="#1a1a1a" stroke-width="1.25"/><path d="M639.54,654.40 L645.64,654.40" stroke="#1a1a1a" stroke-width="1.25"/><rect x="637.94" y="612.26" width="9.30" height="25.81" fill="#207fc4" stroke="#1a1a1a" stroke-width="1.25"/><path d="M637.94,625.48 L647.24,625.48" stroke="#1a1a1a" stroke-width="1.25"/><circle cx="642.59" cy="571.21" r="0.85" fill="#1a1a1a"/><path d="M651.89,618.02 L651.89,634.34 M651.89,645.85 L651.89,658.76" stroke="#1a1a1a" stroke-width="1.25" fill="none"/><path d="M648.84,618.02 L654.94,618.02" stroke="#1a1a1a" stroke-width="1.25"/><path d="M648.84,658.76 L654.94,658.76" stroke="#1a1a1a" stroke-width="1.25"/><rect x="647.24" y="634.34" width="9.30" height="11.51" fill="#b51b46" stroke="#1a1a1a" stroke-width="1.25"/><path d="M647.24,640.87 L656.54,640.87" stroke="#1a1a1a" stroke-width="1.25"/><circle cx="651.89" cy="616.30" r="0.85" fill="#1a1a1a"/><circle cx="651.89" cy="615.22" r="0.85" fill="#1a1a1a"/><circle cx="651.89" cy="613.97" r="0.85" fill="#1a1a1a"/><circle cx="651.89" cy="612.88" r="0.85" fill="#1a1a1a"/><circle cx="651.89" cy="611.64" r="0.85" fill="#1a1a1a"/><circle cx="651.89" cy="610.55" r="0.85" fill="#1a1a1a"/><circle cx="651.89" cy="609.31" r="0.85" fill="#1a1a1a"/><circle cx="651.89" cy="608.22" r="0.85" fill="#1a1a1a"/><circle cx="651.89" cy="606.97" r="0.85" fill="#1a1a1a"/><circle cx="651.89" cy="605.89" r="0.85" fill="#1a1a1a"/><circle cx="651.89" cy="604.64" r="0.85" fill="#1a1a1a"/><circle cx="651.89" cy="603.55" r="0.85" fill="#1a1a1a"/><circle cx="651.89" cy="602.31" r="0.85" fill="#1a1a1a"/><circle cx="651.89" cy="601.22" r="0.85" fill="#1a1a1a"/><circle cx="651.89" cy="599.98" r="0.85" fill="#1a1a1a"/><circle cx="651.89" cy="592.20" r="0.85" fill="#1a1a1a"/><path d="M665.96,584.74 L665.96,602.47 M665.96,636.21 L665.96,648.18" stroke="#1a1a1a" stroke-width="1.25" fill="none"/><path d="M662.91,584.74 L669.01,584.74" stroke="#1a1a1a" stroke-width="1.25"/><path d="M662.91,648.18 L669.01,648.18" stroke="#1a1a1a" stroke-width="1.25"/><rect x="661.31" y="602.47" width="9.30" height="33.74" fill="#207fc4" stroke="#1a1a1a" stroke-width="1.25"/><path d="M661.31,613.82 L670.61,613.82" stroke="#1a1a1a" stroke-width="1.25"/><path d="M675.26,614.13 L675.26,631.23 M675.26,643.52 L675.26,650.51" stroke="#1a1a1a" stroke-width="1.25" fill="none"/><path d="M672.21,614.13 L678.31,614.13" stroke="#1a1a1a" stroke-width="1.25"/><path d="M672.21,650.51 L678.31,650.51" stroke="#1a1a1a" stroke-width="1.25"/><rect x="670.61" y="631.23" width="9.30" height="12.28" fill="#b51b46" stroke="#1a1a1a" stroke-width="1.25"/><path d="M670.61,638.54 L679.91,638.54" stroke="#1a1a1a" stroke-width="1.25"/><circle cx="675.26" cy="613.19" r="0.85" fill="#1a1a1a"/><circle cx="675.26" cy="611.95" r="0.85" fill="#1a1a1a"/><circle cx="675.26" cy="610.86" r="0.85" fill="#1a1a1a"/><circle cx="675.26" cy="609.77" r="0.85" fill="#1a1a1a"/><circle cx="675.26" cy="608.53" r="0.85" fill="#1a1a1a"/><circle cx="675.26" cy="607.44" r="0.85" fill="#1a1a1a"/><circle cx="675.26" cy="606.20" r="0.85" fill="#1a1a1a"/><circle cx="675.26" cy="605.11" r="0.85" fill="#1a1a1a"/><circle cx="675.26" cy="603.87" r="0.85" fill="#1a1a1a"/><circle cx="675.26" cy="602.78" r="0.85" fill="#1a1a1a"/><circle cx="675.26" cy="601.53" r="0.85" fill="#1a1a1a"/><circle cx="675.26" cy="600.44" r="0.85" fill="#1a1a1a"/><circle cx="675.26" cy="599.20" r="0.85" fill="#1a1a1a"/><circle cx="675.26" cy="598.11" r="0.85" fill="#1a1a1a"/><circle cx="675.26" cy="596.87" r="0.85" fill="#1a1a1a"/><circle cx="675.26" cy="595.62" r="0.85" fill="#1a1a1a"/><circle cx="675.26" cy="594.53" r="0.85" fill="#1a1a1a"/><circle cx="675.26" cy="589.87" r="0.85" fill="#1a1a1a"/><path d="M27.9,532 L27.9,668.7 L683.1,668.7" stroke="#231f20" stroke-width="1.5" fill="none"/><path d="M26.299999999999997,537.00 L27.9,537.00" stroke="#1d1d1d" stroke-width="0.8"/><text x="25.5" y="539.9" font-size="8.2" text-anchor="end" font-weight="normal" fill="#1a1a1a" >6</text><path d="M26.299999999999997,552.55 L27.9,552.55" stroke="#1d1d1d" stroke-width="0.8"/><text x="25.5" y="555.45" font-size="8.2" text-anchor="end" font-weight="normal" fill="#1a1a1a" >5</text><path d="M26.299999999999997,568.10 L27.9,568.10" stroke="#1d1d1d" stroke-width="0.8"/><text x="25.5" y="571.0" font-size="8.2" text-anchor="end" font-weight="normal" fill="#1a1a1a" >4</text><path d="M26.299999999999997,583.65 L27.9,583.65" stroke="#1d1d1d" stroke-width="0.8"/><text x="25.5" y="586.55" font-size="8.2" text-anchor="end" font-weight="normal" fill="#1a1a1a" >3</text><path d="M26.299999999999997,599.20 L27.9,599.20" stroke="#1d1d1d" stroke-width="0.8"/><text x="25.5" y="602.1" font-size="8.2" text-anchor="end" font-weight="normal" fill="#1a1a1a" >2</text><path d="M26.299999999999997,614.75 L27.9,614.75" stroke="#1d1d1d" stroke-width="0.8"/><text x="25.5" y="617.65" font-size="8.2" text-anchor="end" font-weight="normal" fill="#1a1a1a" >1</text><path d="M26.299999999999997,630.30 L27.9,630.30" stroke="#1d1d1d" stroke-width="0.8"/><text x="25.5" y="633.2" font-size="8.2" text-anchor="end" font-weight="normal" fill="#1a1a1a" >0</text><path d="M26.299999999999997,645.85 L27.9,645.85" stroke="#1d1d1d" stroke-width="0.8"/><text x="25.5" y="648.75" font-size="8.2" text-anchor="end" font-weight="normal" fill="#1a1a1a" >-1</text><path d="M26.299999999999997,661.40 L27.9,661.40" stroke="#1d1d1d" stroke-width="0.8"/><text x="25.5" y="664.3" font-size="8.2" text-anchor="end" font-weight="normal" fill="#1a1a1a" >-2</text><path d="M39.59,668.7 L39.59,670.5" stroke="#1d1d1d" stroke-width="0.8"/><text transform="translate(42.49,672.7) rotate(-90)" font-size="8.3" text-anchor="end" fill="#1a1a1a">AC069228.1</text><path d="M62.96,668.7 L62.96,670.5" stroke="#1d1d1d" stroke-width="0.8"/><text transform="translate(65.86,672.7) rotate(-90)" font-size="8.3" text-anchor="end" fill="#1a1a1a">CCL19</text><path d="M86.33,668.7 L86.33,670.5" stroke="#1d1d1d" stroke-width="0.8"/><text transform="translate(89.23,672.7) rotate(-90)" font-size="8.3" text-anchor="end" fill="#1a1a1a">CST2</text><path d="M109.70,668.7 L109.70,670.5" stroke="#1d1d1d" stroke-width="0.8"/><text transform="translate(112.60,672.7) rotate(-90)" font-size="8.3" text-anchor="end" fill="#1a1a1a">CST4</text><path d="M133.07,668.7 L133.07,670.5" stroke="#1d1d1d" stroke-width="0.8"/><text transform="translate(135.97,672.7) rotate(-90)" font-size="8.3" text-anchor="end" fill="#1a1a1a">CXCL17</text><path d="M156.44,668.7 L156.44,670.5" stroke="#1d1d1d" stroke-width="0.8"/><text transform="translate(159.34,672.7) rotate(-90)" font-size="8.3" text-anchor="end" fill="#1a1a1a">CXCL2</text><path d="M179.81,668.7 L179.81,670.5" stroke="#1d1d1d" stroke-width="0.8"/><text transform="translate(182.71,672.7) rotate(-90)" font-size="8.3" text-anchor="end" fill="#1a1a1a">CXCL5</text><path d="M203.19,668.7 L203.19,670.5" stroke="#1d1d1d" stroke-width="0.8"/><text transform="translate(206.09,672.7) rotate(-90)" font-size="8.3" text-anchor="end" fill="#1a1a1a">GABRP</text><path d="M226.56,668.7 L226.56,670.5" stroke="#1d1d1d" stroke-width="0.8"/><text transform="translate(229.46,672.7) rotate(-90)" font-size="8.3" text-anchor="end" fill="#1a1a1a">IGHG3</text><path d="M249.93,668.7 L249.93,670.5" stroke="#1d1d1d" stroke-width="0.8"/><text transform="translate(252.83,672.7) rotate(-90)" font-size="8.3" text-anchor="end" fill="#1a1a1a">IGHG4</text><path d="M273.30,668.7 L273.30,670.5" stroke="#1d1d1d" stroke-width="0.8"/><text transform="translate(276.20,672.7) rotate(-90)" font-size="8.3" text-anchor="end" fill="#1a1a1a">IGKC</text><path d="M296.67,668.7 L296.67,670.5" stroke="#1d1d1d" stroke-width="0.8"/><text transform="translate(299.57,672.7) rotate(-90)" font-size="8.3" text-anchor="end" fill="#1a1a1a">IGLC2</text><path d="M320.04,668.7 L320.04,670.5" stroke="#1d1d1d" stroke-width="0.8"/><text transform="translate(322.94,672.7) rotate(-90)" font-size="8.3" text-anchor="end" fill="#1a1a1a">IGLC7</text><path d="M343.41,668.7 L343.41,670.5" stroke="#1d1d1d" stroke-width="0.8"/><text transform="translate(346.31,672.7) rotate(-90)" font-size="8.3" text-anchor="end" fill="#1a1a1a">LCN2</text><path d="M366.79,668.7 L366.79,670.5" stroke="#1d1d1d" stroke-width="0.8"/><text transform="translate(369.69,672.7) rotate(-90)" font-size="8.3" text-anchor="end" fill="#1a1a1a">LTF</text><path d="M390.16,668.7 L390.16,670.5" stroke="#1d1d1d" stroke-width="0.8"/><text transform="translate(393.06,672.7) rotate(-90)" font-size="8.3" text-anchor="end" fill="#1a1a1a">MUC5B</text><path d="M413.53,668.7 L413.53,670.5" stroke="#1d1d1d" stroke-width="0.8"/><text transform="translate(416.43,672.7) rotate(-90)" font-size="8.3" text-anchor="end" fill="#1a1a1a">ORM1</text><path d="M436.90,668.7 L436.90,670.5" stroke="#1d1d1d" stroke-width="0.8"/><text transform="translate(439.80,672.7) rotate(-90)" font-size="8.3" text-anchor="end" fill="#1a1a1a">SAA1</text><path d="M460.27,668.7 L460.27,670.5" stroke="#1d1d1d" stroke-width="0.8"/><text transform="translate(463.17,672.7) rotate(-90)" font-size="8.3" text-anchor="end" fill="#1a1a1a">SAA2</text><path d="M483.64,668.7 L483.64,670.5" stroke="#1d1d1d" stroke-width="0.8"/><text transform="translate(486.54,672.7) rotate(-90)" font-size="8.3" text-anchor="end" fill="#1a1a1a">ALOX15B</text><path d="M507.01,668.7 L507.01,670.5" stroke="#1d1d1d" stroke-width="0.8"/><text transform="translate(509.91,672.7) rotate(-90)" font-size="8.3" text-anchor="end" fill="#1a1a1a">ANPEP</text><path d="M530.39,668.7 L530.39,670.5" stroke="#1d1d1d" stroke-width="0.8"/><text transform="translate(533.29,672.7) rotate(-90)" font-size="8.3" text-anchor="end" fill="#1a1a1a">CARTPT</text><path d="M553.76,668.7 L553.76,670.5" stroke="#1d1d1d" stroke-width="0.8"/><text transform="translate(556.66,672.7) rotate(-90)" font-size="8.3" text-anchor="end" fill="#1a1a1a">CYP3A5</text><path d="M577.13,668.7 L577.13,670.5" stroke="#1d1d1d" stroke-width="0.8"/><text transform="translate(580.03,672.7) rotate(-90)" font-size="8.3" text-anchor="end" fill="#1a1a1a">KRT13</text><path d="M600.50,668.7 L600.50,670.5" stroke="#1d1d1d" stroke-width="0.8"/><text transform="translate(603.40,672.7) rotate(-90)" font-size="8.3" text-anchor="end" fill="#1a1a1a">NCAPD3</text><path d="M623.87,668.7 L623.87,670.5" stroke="#1d1d1d" stroke-width="0.8"/><text transform="translate(626.77,672.7) rotate(-90)" font-size="8.3" text-anchor="end" fill="#1a1a1a">PCAT4</text><path d="M647.24,668.7 L647.24,670.5" stroke="#1d1d1d" stroke-width="0.8"/><text transform="translate(650.14,672.7) rotate(-90)" font-size="8.3" text-anchor="end" fill="#1a1a1a">PTPRM</text><path d="M670.61,668.7 L670.61,670.5" stroke="#1d1d1d" stroke-width="0.8"/><text transform="translate(673.51,672.7) rotate(-90)" font-size="8.3" text-anchor="end" fill="#1a1a1a">TGM4</text><text transform="translate(15.8,600.4) rotate(-90)" font-size="11.2" text-anchor="middle" fill="#1a1a1a">zscore[log<tspan font-size="6.2" dy="2.2">10</tspan><tspan dy="-2.2">(UMI counts+1)]</tspan></text><path d="M29.6,532.2 L471.06,532.2" fill="none" stroke="#e2166d" stroke-width="1.9" stroke-dasharray="11.037,11.037" stroke-dashoffset="5.518"/><path d="M471.06,532.2 L471.06,722.6" fill="none" stroke="#e2166d" stroke-width="1.9" stroke-dasharray="10.578,10.578" stroke-dashoffset="5.289"/><path d="M471.06,722.6 L29.6,722.6" fill="none" stroke="#e2166d" stroke-width="1.9" stroke-dasharray="11.037,11.037" stroke-dashoffset="5.518"/><path d="M29.6,722.6 L29.6,532.2" fill="none" stroke="#e2166d" stroke-width="1.9" stroke-dasharray="10.578,10.578" stroke-dashoffset="5.289"/><rect x="28.650000000000002" y="531.25" width="1.9" height="1.9" fill="#e2166d"/><rect x="470.11" y="531.25" width="1.9" height="1.9" fill="#e2166d"/><rect x="470.11" y="721.65" width="1.9" height="1.9" fill="#e2166d"/><rect x="28.650000000000002" y="721.65" width="1.9" height="1.9" fill="#e2166d"/><path d="M473.26,532.2 L682.9,532.2" fill="none" stroke="#2254ad" stroke-width="1.9" stroke-dasharray="10.482,10.482" stroke-dashoffset="5.241"/><path d="M682.9,532.2 L682.9,722.6" fill="none" stroke="#2254ad" stroke-width="1.9" stroke-dasharray="10.578,10.578" stroke-dashoffset="5.289"/><path d="M682.9,722.6 L473.26,722.6" fill="none" stroke="#2254ad" stroke-width="1.9" stroke-dasharray="10.482,10.482" stroke-dashoffset="5.241"/><path d="M473.26,722.6 L473.26,532.2" fill="none" stroke="#2254ad" stroke-width="1.9" stroke-dasharray="10.578,10.578" stroke-dashoffset="5.289"/><rect x="472.31" y="531.25" width="1.9" height="1.9" fill="#2254ad"/><rect x="681.9499999999999" y="531.25" width="1.9" height="1.9" fill="#2254ad"/><rect x="681.9499999999999" y="721.65" width="1.9" height="1.9" fill="#2254ad"/><rect x="472.31" y="721.65" width="1.9" height="1.9" fill="#2254ad"/><text x="30.8" y="734.2" font-size="11.1" text-anchor="start" font-weight="normal" fill="#e2166d" >Upregulated in aggressive PCa</text><text x="472.26" y="734.2" font-size="11.1" text-anchor="start" font-weight="normal" fill="#2254ad" >Downregulated in aggressive PCa</text><rect x="590.5" y="539.3" width="18.3" height="6.6" fill="#207fc4" stroke="#1d1d1d" stroke-width="0.9"/><rect x="590.5" y="551.5" width="18.3" height="6.6" fill="#b51b46" stroke="#1d1d1d" stroke-width="0.9"/><text x="615" y="545.5999999999999" font-size="8.3" text-anchor="start" font-weight="normal" fill="#1a1a1a" >Non-aggressive</text><text x="615" y="557.8" font-size="8.3" text-anchor="start" font-weight="normal" fill="#1a1a1a" >Aggressive</text><text x="-1" y="749.0" font-size="12.5" text-anchor="start" font-weight="bold" fill="#000" >c</text><text x="355.3" y="748.8" font-size="12.55" text-anchor="middle" font-weight="normal" fill="#1a1a1a" >Chemokine enriched gland (CEG) signature genes</text><rect x="28.6" y="755.2" width="652.6999999999999" height="136.79999999999995" fill="#f5f3d9"/><path d="M43.83,856.37 L43.83,856.37 M43.83,861.85 L43.83,868.22" stroke="#1a1a1a" stroke-width="1.25" fill="none"/><path d="M38.43,868.22 L49.23,868.22" stroke="#1a1a1a" stroke-width="1.25"/><rect x="33.98" y="856.37" width="19.70" height="5.48" fill="#207fc4" stroke="#1a1a1a" stroke-width="1.25"/><path d="M33.98,858.85 L53.68,858.85" stroke="#1a1a1a" stroke-width="1.25"/><circle cx="43.83" cy="831.62" r="1.0" fill="#1a1a1a"/><path d="M63.53,808.64 L63.53,839.22 M63.53,863.09 L63.53,871.40" stroke="#1a1a1a" stroke-width="1.25" fill="none"/><path d="M58.13,808.64 L68.93,808.64" stroke="#1a1a1a" stroke-width="1.25"/><path d="M58.13,871.40 L68.93,871.40" stroke="#1a1a1a" stroke-width="1.25"/><rect x="53.68" y="839.22" width="19.70" height="23.87" fill="#b51b46" stroke="#1a1a1a" stroke-width="1.25"/><path d="M53.68,853.90 L73.38,853.90" stroke="#1a1a1a" stroke-width="1.25"/><circle cx="63.53" cy="795.38" r="1.0" fill="#1a1a1a"/><circle cx="63.53" cy="793.61" r="1.0" fill="#1a1a1a"/><circle cx="63.53" cy="777.34" r="1.0" fill="#1a1a1a"/><path d="M93.98,840.46 L93.98,855.13 M93.98,865.57 L93.98,875.64" stroke="#1a1a1a" stroke-width="1.25" fill="none"/><path d="M88.58,840.46 L99.38,840.46" stroke="#1a1a1a" stroke-width="1.25"/><path d="M88.58,875.64 L99.38,875.64" stroke="#1a1a1a" stroke-width="1.25"/><rect x="84.13" y="855.13" width="19.70" height="10.43" fill="#207fc4" stroke="#1a1a1a" stroke-width="1.25"/><path d="M84.13,861.85 L103.83,861.85" stroke="#1a1a1a" stroke-width="1.25"/><circle cx="93.98" cy="833.39" r="1.0" fill="#1a1a1a"/><circle cx="93.98" cy="831.62" r="1.0" fill="#1a1a1a"/><path d="M113.68,800.86 L113.68,837.45 M113.68,861.85 L113.68,874.41" stroke="#1a1a1a" stroke-width="1.25" fill="none"/><path d="M108.28,800.86 L119.08,800.86" stroke="#1a1a1a" stroke-width="1.25"/><path d="M108.28,874.41 L119.08,874.41" stroke="#1a1a1a" stroke-width="1.25"/><rect x="103.83" y="837.45" width="19.70" height="24.40" fill="#b51b46" stroke="#1a1a1a" stroke-width="1.25"/><path d="M103.83,853.01 L123.53,853.01" stroke="#1a1a1a" stroke-width="1.25"/><circle cx="113.68" cy="798.03" r="1.0" fill="#1a1a1a"/><circle cx="113.68" cy="795.38" r="1.0" fill="#1a1a1a"/><circle cx="113.68" cy="793.61" r="1.0" fill="#1a1a1a"/><circle cx="113.68" cy="787.42" r="1.0" fill="#1a1a1a"/><circle cx="113.68" cy="784.77" r="1.0" fill="#1a1a1a"/><circle cx="113.68" cy="783.00" r="1.0" fill="#1a1a1a"/><circle cx="113.68" cy="773.28" r="1.0" fill="#1a1a1a"/><path d="M144.13,836.22 L144.13,849.83 M144.13,860.62 L144.13,868.57" stroke="#1a1a1a" stroke-width="1.25" fill="none"/><path d="M138.73,836.22 L149.53,836.22" stroke="#1a1a1a" stroke-width="1.25"/><path d="M138.73,868.57 L149.53,868.57" stroke="#1a1a1a" stroke-width="1.25"/><rect x="134.28" y="849.83" width="19.70" height="10.78" fill="#207fc4" stroke="#1a1a1a" stroke-width="1.25"/><path d="M134.28,857.26 L153.98,857.26" stroke="#1a1a1a" stroke-width="1.25"/><circle cx="144.13" cy="823.66" r="1.0" fill="#1a1a1a"/><circle cx="144.13" cy="821.01" r="1.0" fill="#1a1a1a"/><path d="M163.83,810.93 L163.83,841.34 M163.83,862.38 L163.83,870.69" stroke="#1a1a1a" stroke-width="1.25" fill="none"/><path d="M158.43,810.93 L169.23,810.93" stroke="#1a1a1a" stroke-width="1.25"/><path d="M158.43,870.69 L169.23,870.69" stroke="#1a1a1a" stroke-width="1.25"/><rect x="153.98" y="841.34" width="19.70" height="21.04" fill="#b51b46" stroke="#1a1a1a" stroke-width="1.25"/><path d="M153.98,856.37 L173.68,856.37" stroke="#1a1a1a" stroke-width="1.25"/><circle cx="163.83" cy="808.64" r="1.0" fill="#1a1a1a"/><circle cx="163.83" cy="806.87" r="1.0" fill="#1a1a1a"/><circle cx="163.83" cy="800.68" r="1.0" fill="#1a1a1a"/><circle cx="163.83" cy="794.49" r="1.0" fill="#1a1a1a"/><circle cx="163.83" cy="785.65" r="1.0" fill="#1a1a1a"/><circle cx="163.83" cy="783.00" r="1.0" fill="#1a1a1a"/><circle cx="163.83" cy="781.23" r="1.0" fill="#1a1a1a"/><circle cx="163.83" cy="777.70" r="1.0" fill="#1a1a1a"/><circle cx="163.83" cy="775.04" r="1.0" fill="#1a1a1a"/><circle cx="163.83" cy="760.90" r="1.0" fill="#1a1a1a"/><path d="M194.29,825.43 L194.29,850.01 M194.29,866.45 L194.29,874.41" stroke="#1a1a1a" stroke-width="1.25" fill="none"/><path d="M188.89,825.43 L199.69,825.43" stroke="#1a1a1a" stroke-width="1.25"/><path d="M188.89,874.41 L199.69,874.41" stroke="#1a1a1a" stroke-width="1.25"/><rect x="184.44" y="850.01" width="19.70" height="16.44" fill="#207fc4" stroke="#1a1a1a" stroke-width="1.25"/><path d="M184.44,861.15 L204.14,861.15" stroke="#1a1a1a" stroke-width="1.25"/><circle cx="194.29" cy="823.66" r="1.0" fill="#1a1a1a"/><circle cx="194.29" cy="811.29" r="1.0" fill="#1a1a1a"/><path d="M213.99,794.85 L213.99,835.51 M213.99,863.09 L213.99,873.88" stroke="#1a1a1a" stroke-width="1.25" fill="none"/><path d="M208.59,794.85 L219.39,794.85" stroke="#1a1a1a" stroke-width="1.25"/><path d="M208.59,873.88 L219.39,873.88" stroke="#1a1a1a" stroke-width="1.25"/><rect x="204.14" y="835.51" width="19.70" height="27.58" fill="#b51b46" stroke="#1a1a1a" stroke-width="1.25"/><path d="M204.14,850.01 L223.84,850.01" stroke="#1a1a1a" stroke-width="1.25"/><circle cx="213.99" cy="786.54" r="1.0" fill="#1a1a1a"/><circle cx="213.99" cy="780.35" r="1.0" fill="#1a1a1a"/><path d="M244.44,832.50 L244.44,843.47 M244.44,863.09 L244.44,872.64" stroke="#1a1a1a" stroke-width="1.25" fill="none"/><path d="M239.04,832.50 L249.84,832.50" stroke="#1a1a1a" stroke-width="1.25"/><path d="M239.04,872.64 L249.84,872.64" stroke="#1a1a1a" stroke-width="1.25"/><rect x="234.59" y="843.47" width="19.70" height="19.62" fill="#207fc4" stroke="#1a1a1a" stroke-width="1.25"/><path d="M234.59,858.14 L254.29,858.14" stroke="#1a1a1a" stroke-width="1.25"/><circle cx="244.44" cy="811.64" r="1.0" fill="#1a1a1a"/><path d="M264.14,799.27 L264.14,837.45 M264.14,863.09 L264.14,874.94" stroke="#1a1a1a" stroke-width="1.25" fill="none"/><path d="M258.74,799.27 L269.54,799.27" stroke="#1a1a1a" stroke-width="1.25"/><path d="M258.74,874.94 L269.54,874.94" stroke="#1a1a1a" stroke-width="1.25"/><rect x="254.29" y="837.45" width="19.70" height="25.64" fill="#b51b46" stroke="#1a1a1a" stroke-width="1.25"/><path d="M254.29,853.01 L273.99,853.01" stroke="#1a1a1a" stroke-width="1.25"/><circle cx="264.14" cy="792.72" r="1.0" fill="#1a1a1a"/><circle cx="264.14" cy="789.19" r="1.0" fill="#1a1a1a"/><path d="M294.60,857.26 L294.60,857.26 M294.60,862.38 L294.60,866.80" stroke="#1a1a1a" stroke-width="1.25" fill="none"/><path d="M289.20,866.80 L300.00,866.80" stroke="#1a1a1a" stroke-width="1.25"/><rect x="284.75" y="857.26" width="19.70" height="5.13" fill="#207fc4" stroke="#1a1a1a" stroke-width="1.25"/><path d="M284.75,858.85 L304.45,858.85" stroke="#1a1a1a" stroke-width="1.25"/><circle cx="294.60" cy="848.06" r="1.0" fill="#1a1a1a"/><path d="M314.30,798.56 L314.30,838.52 M314.30,864.33 L314.30,872.46" stroke="#1a1a1a" stroke-width="1.25" fill="none"/><path d="M308.90,798.56 L319.70,798.56" stroke="#1a1a1a" stroke-width="1.25"/><path d="M308.90,872.46 L319.70,872.46" stroke="#1a1a1a" stroke-width="1.25"/><rect x="304.45" y="838.52" width="19.70" height="25.81" fill="#b51b46" stroke="#1a1a1a" stroke-width="1.25"/><path d="M304.45,852.48 L324.15,852.48" stroke="#1a1a1a" stroke-width="1.25"/><circle cx="314.30" cy="791.84" r="1.0" fill="#1a1a1a"/><circle cx="314.30" cy="787.42" r="1.0" fill="#1a1a1a"/><path d="M344.75,836.75 L344.75,853.01 M344.75,863.62 L344.75,871.93" stroke="#1a1a1a" stroke-width="1.25" fill="none"/><path d="M339.35,836.75 L350.15,836.75" stroke="#1a1a1a" stroke-width="1.25"/><path d="M339.35,871.93 L350.15,871.93" stroke="#1a1a1a" stroke-width="1.25"/><rect x="334.90" y="853.01" width="19.70" height="10.61" fill="#207fc4" stroke="#1a1a1a" stroke-width="1.25"/><path d="M334.90,858.67 L354.60,858.67" stroke="#1a1a1a" stroke-width="1.25"/><circle cx="344.75" cy="828.08" r="1.0" fill="#1a1a1a"/><circle cx="344.75" cy="825.43" r="1.0" fill="#1a1a1a"/><circle cx="344.75" cy="822.78" r="1.0" fill="#1a1a1a"/><path d="M364.45,800.33 L364.45,836.22 M364.45,862.38 L364.45,873.88" stroke="#1a1a1a" stroke-width="1.25" fill="none"/><path d="M359.05,800.33 L369.85,800.33" stroke="#1a1a1a" stroke-width="1.25"/><path d="M359.05,873.88 L369.85,873.88" stroke="#1a1a1a" stroke-width="1.25"/><rect x="354.60" y="836.22" width="19.70" height="26.17" fill="#b51b46" stroke="#1a1a1a" stroke-width="1.25"/><path d="M354.60,853.01 L374.30,853.01" stroke="#1a1a1a" stroke-width="1.25"/><circle cx="364.45" cy="796.26" r="1.0" fill="#1a1a1a"/><circle cx="364.45" cy="794.49" r="1.0" fill="#1a1a1a"/><circle cx="364.45" cy="791.84" r="1.0" fill="#1a1a1a"/><circle cx="364.45" cy="786.54" r="1.0" fill="#1a1a1a"/><circle cx="364.45" cy="784.77" r="1.0" fill="#1a1a1a"/><path d="M394.90,830.03 L394.90,851.07 M394.90,865.04 L394.90,873.17" stroke="#1a1a1a" stroke-width="1.25" fill="none"/><path d="M389.50,830.03 L400.30,830.03" stroke="#1a1a1a" stroke-width="1.25"/><path d="M389.50,873.17 L400.30,873.17" stroke="#1a1a1a" stroke-width="1.25"/><rect x="385.05" y="851.07" width="19.70" height="13.97" fill="#207fc4" stroke="#1a1a1a" stroke-width="1.25"/><path d="M385.05,859.38 L404.75,859.38" stroke="#1a1a1a" stroke-width="1.25"/><circle cx="394.90" cy="828.08" r="1.0" fill="#1a1a1a"/><circle cx="394.90" cy="825.43" r="1.0" fill="#1a1a1a"/><circle cx="394.90" cy="821.01" r="1.0" fill="#1a1a1a"/><circle cx="394.90" cy="814.82" r="1.0" fill="#1a1a1a"/><circle cx="394.90" cy="800.68" r="1.0" fill="#1a1a1a"/><path d="M414.60,794.85 L414.60,834.27 M414.60,863.09 L414.60,875.11" stroke="#1a1a1a" stroke-width="1.25" fill="none"/><path d="M409.20,794.85 L420.00,794.85" stroke="#1a1a1a" stroke-width="1.25"/><path d="M409.20,875.11 L420.00,875.11" stroke="#1a1a1a" stroke-width="1.25"/><rect x="404.75" y="834.27" width="19.70" height="28.82" fill="#b51b46" stroke="#1a1a1a" stroke-width="1.25"/><path d="M404.75,853.01 L424.45,853.01" stroke="#1a1a1a" stroke-width="1.25"/><circle cx="414.60" cy="786.54" r="1.0" fill="#1a1a1a"/><path d="M445.06,802.27 L445.06,829.68 M445.06,849.30 L445.06,878.12" stroke="#1a1a1a" stroke-width="1.25" fill="none"/><path d="M439.66,802.27 L450.46,802.27" stroke="#1a1a1a" stroke-width="1.25"/><path d="M439.66,878.12 L450.46,878.12" stroke="#1a1a1a" stroke-width="1.25"/><rect x="435.21" y="829.68" width="19.70" height="19.62" fill="#207fc4" stroke="#1a1a1a" stroke-width="1.25"/><path d="M435.21,839.22 L454.91,839.22" stroke="#1a1a1a" stroke-width="1.25"/><circle cx="445.06" cy="879.36" r="1.0" fill="#1a1a1a"/><circle cx="445.06" cy="881.12" r="1.0" fill="#1a1a1a"/><circle cx="445.06" cy="885.54" r="1.0" fill="#1a1a1a"/><path d="M464.76,819.95 L464.76,851.78 M464.76,873.17 L464.76,884.48" stroke="#1a1a1a" stroke-width="1.25" fill="none"/><path d="M459.36,819.95 L470.16,819.95" stroke="#1a1a1a" stroke-width="1.25"/><path d="M459.36,884.48 L470.16,884.48" stroke="#1a1a1a" stroke-width="1.25"/><rect x="454.91" y="851.78" width="19.70" height="21.39" fill="#b51b46" stroke="#1a1a1a" stroke-width="1.25"/><path d="M454.91,863.09 L474.61,863.09" stroke="#1a1a1a" stroke-width="1.25"/><circle cx="464.76" cy="817.48" r="1.0" fill="#1a1a1a"/><circle cx="464.76" cy="815.71" r="1.0" fill="#1a1a1a"/><circle cx="464.76" cy="813.94" r="1.0" fill="#1a1a1a"/><path d="M495.21,795.02 L495.21,834.10 M495.21,861.15 L495.21,875.82" stroke="#1a1a1a" stroke-width="1.25" fill="none"/><path d="M489.81,795.02 L500.61,795.02" stroke="#1a1a1a" stroke-width="1.25"/><path d="M489.81,875.82 L500.61,875.82" stroke="#1a1a1a" stroke-width="1.25"/><rect x="485.36" y="834.10" width="19.70" height="27.05" fill="#207fc4" stroke="#1a1a1a" stroke-width="1.25"/><path d="M485.36,849.65 L505.06,849.65" stroke="#1a1a1a" stroke-width="1.25"/><circle cx="495.21" cy="791.84" r="1.0" fill="#1a1a1a"/><circle cx="495.21" cy="786.54" r="1.0" fill="#1a1a1a"/><path d="M514.91,830.91 L514.91,852.66 M514.91,867.69 L514.91,874.58" stroke="#1a1a1a" stroke-width="1.25" fill="none"/><path d="M509.51,830.91 L520.31,830.91" stroke="#1a1a1a" stroke-width="1.25"/><path d="M509.51,874.58 L520.31,874.58" stroke="#1a1a1a" stroke-width="1.25"/><rect x="505.06" y="852.66" width="19.70" height="15.03" fill="#b51b46" stroke="#1a1a1a" stroke-width="1.25"/><path d="M505.06,861.68 L524.76,861.68" stroke="#1a1a1a" stroke-width="1.25"/><circle cx="514.91" cy="828.08" r="1.0" fill="#1a1a1a"/><circle cx="514.91" cy="826.32" r="1.0" fill="#1a1a1a"/><circle cx="514.91" cy="824.55" r="1.0" fill="#1a1a1a"/><circle cx="514.91" cy="822.78" r="1.0" fill="#1a1a1a"/><circle cx="514.91" cy="821.01" r="1.0" fill="#1a1a1a"/><circle cx="514.91" cy="819.24" r="1.0" fill="#1a1a1a"/><circle cx="514.91" cy="817.48" r="1.0" fill="#1a1a1a"/><circle cx="514.91" cy="815.71" r="1.0" fill="#1a1a1a"/><circle cx="514.91" cy="811.29" r="1.0" fill="#1a1a1a"/><path d="M545.37,795.02 L545.37,835.33 M545.37,863.27 L545.37,872.99" stroke="#1a1a1a" stroke-width="1.25" fill="none"/><path d="M539.97,795.02 L550.77,795.02" stroke="#1a1a1a" stroke-width="1.25"/><path d="M539.97,872.99 L550.77,872.99" stroke="#1a1a1a" stroke-width="1.25"/><rect x="535.52" y="835.33" width="19.70" height="27.93" fill="#207fc4" stroke="#1a1a1a" stroke-width="1.25"/><path d="M535.52,851.24 L555.22,851.24" stroke="#1a1a1a" stroke-width="1.25"/><circle cx="545.37" cy="790.07" r="1.0" fill="#1a1a1a"/><circle cx="545.37" cy="789.19" r="1.0" fill="#1a1a1a"/><path d="M565.07,836.22 L565.07,854.25 M565.07,866.10 L565.07,874.58" stroke="#1a1a1a" stroke-width="1.25" fill="none"/><path d="M559.67,836.22 L570.47,836.22" stroke="#1a1a1a" stroke-width="1.25"/><path d="M559.67,874.58 L570.47,874.58" stroke="#1a1a1a" stroke-width="1.25"/><rect x="555.22" y="854.25" width="19.70" height="11.85" fill="#b51b46" stroke="#1a1a1a" stroke-width="1.25"/><path d="M555.22,861.15 L574.92,861.15" stroke="#1a1a1a" stroke-width="1.25"/><circle cx="565.07" cy="828.97" r="1.0" fill="#1a1a1a"/><circle cx="565.07" cy="825.43" r="1.0" fill="#1a1a1a"/><circle cx="565.07" cy="821.90" r="1.0" fill="#1a1a1a"/><circle cx="565.07" cy="821.01" r="1.0" fill="#1a1a1a"/><circle cx="565.07" cy="805.10" r="1.0" fill="#1a1a1a"/><path d="M595.52,789.01 L595.52,833.21 M595.52,863.27 L595.52,877.23" stroke="#1a1a1a" stroke-width="1.25" fill="none"/><path d="M590.12,789.01 L600.92,789.01" stroke="#1a1a1a" stroke-width="1.25"/><path d="M590.12,877.23 L600.92,877.23" stroke="#1a1a1a" stroke-width="1.25"/><rect x="585.67" y="833.21" width="19.70" height="30.06" fill="#207fc4" stroke="#1a1a1a" stroke-width="1.25"/><path d="M585.67,849.12 L605.37,849.12" stroke="#1a1a1a" stroke-width="1.25"/><path d="M615.22,811.64 L615.22,843.82 M615.22,866.98 L615.22,877.59" stroke="#1a1a1a" stroke-width="1.25" fill="none"/><path d="M609.82,811.64 L620.62,811.64" stroke="#1a1a1a" stroke-width="1.25"/><path d="M609.82,877.59 L620.62,877.59" stroke="#1a1a1a" stroke-width="1.25"/><rect x="605.37" y="843.82" width="19.70" height="23.16" fill="#b51b46" stroke="#1a1a1a" stroke-width="1.25"/><path d="M605.37,857.26 L625.07,857.26" stroke="#1a1a1a" stroke-width="1.25"/><circle cx="615.22" cy="805.10" r="1.0" fill="#1a1a1a"/><circle cx="615.22" cy="803.33" r="1.0" fill="#1a1a1a"/><circle cx="615.22" cy="801.56" r="1.0" fill="#1a1a1a"/><circle cx="615.22" cy="799.80" r="1.0" fill="#1a1a1a"/><path d="M645.67,794.32 L645.67,832.68 M645.67,862.56 L645.67,873.70" stroke="#1a1a1a" stroke-width="1.25" fill="none"/><path d="M640.27,794.32 L651.07,794.32" stroke="#1a1a1a" stroke-width="1.25"/><path d="M640.27,873.70 L651.07,873.70" stroke="#1a1a1a" stroke-width="1.25"/><rect x="635.82" y="832.68" width="19.70" height="29.88" fill="#207fc4" stroke="#1a1a1a" stroke-width="1.25"/><path d="M635.82,849.12 L655.52,849.12" stroke="#1a1a1a" stroke-width="1.25"/><path d="M665.37,823.31 L665.37,848.77 M665.37,866.80 L665.37,875.82" stroke="#1a1a1a" stroke-width="1.25" fill="none"/><path d="M659.97,823.31 L670.77,823.31" stroke="#1a1a1a" stroke-width="1.25"/><path d="M659.97,875.82 L670.77,875.82" stroke="#1a1a1a" stroke-width="1.25"/><rect x="655.52" y="848.77" width="19.70" height="18.03" fill="#b51b46" stroke="#1a1a1a" stroke-width="1.25"/><path d="M655.52,859.38 L675.22,859.38" stroke="#1a1a1a" stroke-width="1.25"/><circle cx="665.37" cy="817.48" r="1.0" fill="#1a1a1a"/><circle cx="665.37" cy="812.17" r="1.0" fill="#1a1a1a"/><circle cx="665.37" cy="811.29" r="1.0" fill="#1a1a1a"/><circle cx="665.37" cy="810.40" r="1.0" fill="#1a1a1a"/><circle cx="665.37" cy="804.22" r="1.0" fill="#1a1a1a"/><circle cx="665.37" cy="802.45" r="1.0" fill="#1a1a1a"/><circle cx="665.37" cy="800.68" r="1.0" fill="#1a1a1a"/><circle cx="665.37" cy="798.91" r="1.0" fill="#1a1a1a"/><path d="M28.6,755.2 L28.6,892.0 L681.3,892.0" stroke="#231f20" stroke-width="1.5" fill="none"/><path d="M27.0,760.90 L28.6,760.90" stroke="#1d1d1d" stroke-width="0.8"/><text x="26.2" y="763.8" font-size="8.2" text-anchor="end" font-weight="normal" fill="#1a1a1a" >5</text><path d="M27.0,778.58 L28.6,778.58" stroke="#1d1d1d" stroke-width="0.8"/><text x="26.2" y="781.48" font-size="8.2" text-anchor="end" font-weight="normal" fill="#1a1a1a" >4</text><path d="M27.0,796.26 L28.6,796.26" stroke="#1d1d1d" stroke-width="0.8"/><text x="26.2" y="799.16" font-size="8.2" text-anchor="end" font-weight="normal" fill="#1a1a1a" >3</text><path d="M27.0,813.94 L28.6,813.94" stroke="#1d1d1d" stroke-width="0.8"/><text x="26.2" y="816.84" font-size="8.2" text-anchor="end" font-weight="normal" fill="#1a1a1a" >2</text><path d="M27.0,831.62 L28.6,831.62" stroke="#1d1d1d" stroke-width="0.8"/><text x="26.2" y="834.52" font-size="8.2" text-anchor="end" font-weight="normal" fill="#1a1a1a" >1</text><path d="M27.0,849.30 L28.6,849.30" stroke="#1d1d1d" stroke-width="0.8"/><text x="26.2" y="852.2" font-size="8.2" text-anchor="end" font-weight="normal" fill="#1a1a1a" >0</text><path d="M27.0,866.98 L28.6,866.98" stroke="#1d1d1d" stroke-width="0.8"/><text x="26.2" y="869.88" font-size="8.2" text-anchor="end" font-weight="normal" fill="#1a1a1a" >-1</text><path d="M27.0,884.66 L28.6,884.66" stroke="#1d1d1d" stroke-width="0.8"/><text x="26.2" y="887.56" font-size="8.2" text-anchor="end" font-weight="normal" fill="#1a1a1a" >-2</text><path d="M53.68,892.0 L53.68,893.8" stroke="#1d1d1d" stroke-width="0.8"/><text transform="translate(56.38,895.4) rotate(-90)" font-size="8.3" text-anchor="end" fill="#1a1a1a">CCL20</text><path d="M103.83,892.0 L103.83,893.8" stroke="#1d1d1d" stroke-width="0.8"/><text transform="translate(106.53,895.4) rotate(-90)" font-size="8.3" text-anchor="end" fill="#1a1a1a">CXCL1</text><path d="M153.98,892.0 L153.98,893.8" stroke="#1d1d1d" stroke-width="0.8"/><text transform="translate(156.68,895.4) rotate(-90)" font-size="8.3" text-anchor="end" fill="#1a1a1a">CXCL11</text><path d="M204.14,892.0 L204.14,893.8" stroke="#1d1d1d" stroke-width="0.8"/><text transform="translate(206.84,895.4) rotate(-90)" font-size="8.3" text-anchor="end" fill="#1a1a1a">CXCL17</text><path d="M254.29,892.0 L254.29,893.8" stroke="#1d1d1d" stroke-width="0.8"/><text transform="translate(256.99,895.4) rotate(-90)" font-size="8.3" text-anchor="end" fill="#1a1a1a">CXCL3</text><path d="M304.45,892.0 L304.45,893.8" stroke="#1d1d1d" stroke-width="0.8"/><text transform="translate(307.15,895.4) rotate(-90)" font-size="8.3" text-anchor="end" fill="#1a1a1a">CXCL5</text><path d="M354.60,892.0 L354.60,893.8" stroke="#1d1d1d" stroke-width="0.8"/><text transform="translate(357.30,895.4) rotate(-90)" font-size="8.3" text-anchor="end" fill="#1a1a1a">CXCL6</text><path d="M404.75,892.0 L404.75,893.8" stroke="#1d1d1d" stroke-width="0.8"/><text transform="translate(407.45,895.4) rotate(-90)" font-size="8.3" text-anchor="end" fill="#1a1a1a">GABRP</text><path d="M454.91,892.0 L454.91,893.8" stroke="#1d1d1d" stroke-width="0.8"/><text transform="translate(457.61,895.4) rotate(-90)" font-size="8.3" text-anchor="end" fill="#1a1a1a">ANPEP</text><path d="M505.06,892.0 L505.06,893.8" stroke="#1d1d1d" stroke-width="0.8"/><text transform="translate(507.76,895.4) rotate(-90)" font-size="8.3" text-anchor="end" fill="#1a1a1a">AOC1</text><path d="M555.22,892.0 L555.22,893.8" stroke="#1d1d1d" stroke-width="0.8"/><text transform="translate(557.92,895.4) rotate(-90)" font-size="8.3" text-anchor="end" fill="#1a1a1a">CARTPT</text><path d="M605.37,892.0 L605.37,893.8" stroke="#1d1d1d" stroke-width="0.8"/><text transform="translate(608.07,895.4) rotate(-90)" font-size="8.3" text-anchor="end" fill="#1a1a1a">CYP3A5</text><path d="M655.52,892.0 L655.52,893.8" stroke="#1d1d1d" stroke-width="0.8"/><text transform="translate(658.22,895.4) rotate(-90)" font-size="8.3" text-anchor="end" fill="#1a1a1a">KRT13</text><text transform="translate(15.8,822.8) rotate(-90)" font-size="11.2" text-anchor="middle" fill="#1a1a1a">zscore[log<tspan font-size="6.2" dy="2.2">10</tspan><tspan dy="-2.2">(UMI counts+1)]</tspan></text><path d="M30.6,755.4000000000001 L428.23,755.4000000000001" fill="none" stroke="#e2166d" stroke-width="1.9" stroke-dasharray="11.045,11.045" stroke-dashoffset="5.523"/><path d="M428.23,755.4000000000001 L428.23,931.8" fill="none" stroke="#e2166d" stroke-width="1.9" stroke-dasharray="11.025,11.025" stroke-dashoffset="5.512"/><path d="M428.23,931.8 L30.6,931.8" fill="none" stroke="#e2166d" stroke-width="1.9" stroke-dasharray="11.045,11.045" stroke-dashoffset="5.523"/><path d="M30.6,931.8 L30.6,755.4000000000001" fill="none" stroke="#e2166d" stroke-width="1.9" stroke-dasharray="11.025,11.025" stroke-dashoffset="5.512"/><rect x="29.650000000000002" y="754.45" width="1.9" height="1.9" fill="#e2166d"/><rect x="427.28000000000003" y="754.45" width="1.9" height="1.9" fill="#e2166d"/><rect x="427.28000000000003" y="930.8499999999999" width="1.9" height="1.9" fill="#e2166d"/><rect x="29.650000000000002" y="930.8499999999999" width="1.9" height="1.9" fill="#e2166d"/><path d="M431.13,755.4000000000001 L682.9,755.4000000000001" fill="none" stroke="#2254ad" stroke-width="1.9" stroke-dasharray="11.444,11.444" stroke-dashoffset="5.722"/><path d="M682.9,755.4000000000001 L682.9,931.8" fill="none" stroke="#2254ad" stroke-width="1.9" stroke-dasharray="11.025,11.025" stroke-dashoffset="5.512"/><path d="M682.9,931.8 L431.13,931.8" fill="none" stroke="#2254ad" stroke-width="1.9" stroke-dasharray="11.444,11.444" stroke-dashoffset="5.722"/><path d="M431.13,931.8 L431.13,755.4000000000001" fill="none" stroke="#2254ad" stroke-width="1.9" stroke-dasharray="11.025,11.025" stroke-dashoffset="5.512"/><rect x="430.18" y="754.45" width="1.9" height="1.9" fill="#2254ad"/><rect x="681.9499999999999" y="754.45" width="1.9" height="1.9" fill="#2254ad"/><rect x="681.9499999999999" y="930.8499999999999" width="1.9" height="1.9" fill="#2254ad"/><rect x="430.18" y="930.8499999999999" width="1.9" height="1.9" fill="#2254ad"/><text x="31.8" y="944.1" font-size="11.1" text-anchor="start" font-weight="normal" fill="#e2166d" >Upregulated in aggressive PCa</text><text x="430.13" y="944.1" font-size="11.1" text-anchor="start" font-weight="normal" fill="#2254ad" >Downregulated in aggressive PCa</text><rect x="590.5" y="763.3" width="18.3" height="6.6" fill="#207fc4" stroke="#1d1d1d" stroke-width="0.9"/><rect x="590.5" y="775.5" width="18.3" height="6.6" fill="#b51b46" stroke="#1d1d1d" stroke-width="0.9"/><text x="615" y="769.5999999999999" font-size="8.3" text-anchor="start" font-weight="normal" fill="#1a1a1a" >Non-aggressive</text><text x="615" y="781.8" font-size="8.3" text-anchor="start" font-weight="normal" fill="#1a1a1a" >Aggressive</text>
</svg>
</body></html>
